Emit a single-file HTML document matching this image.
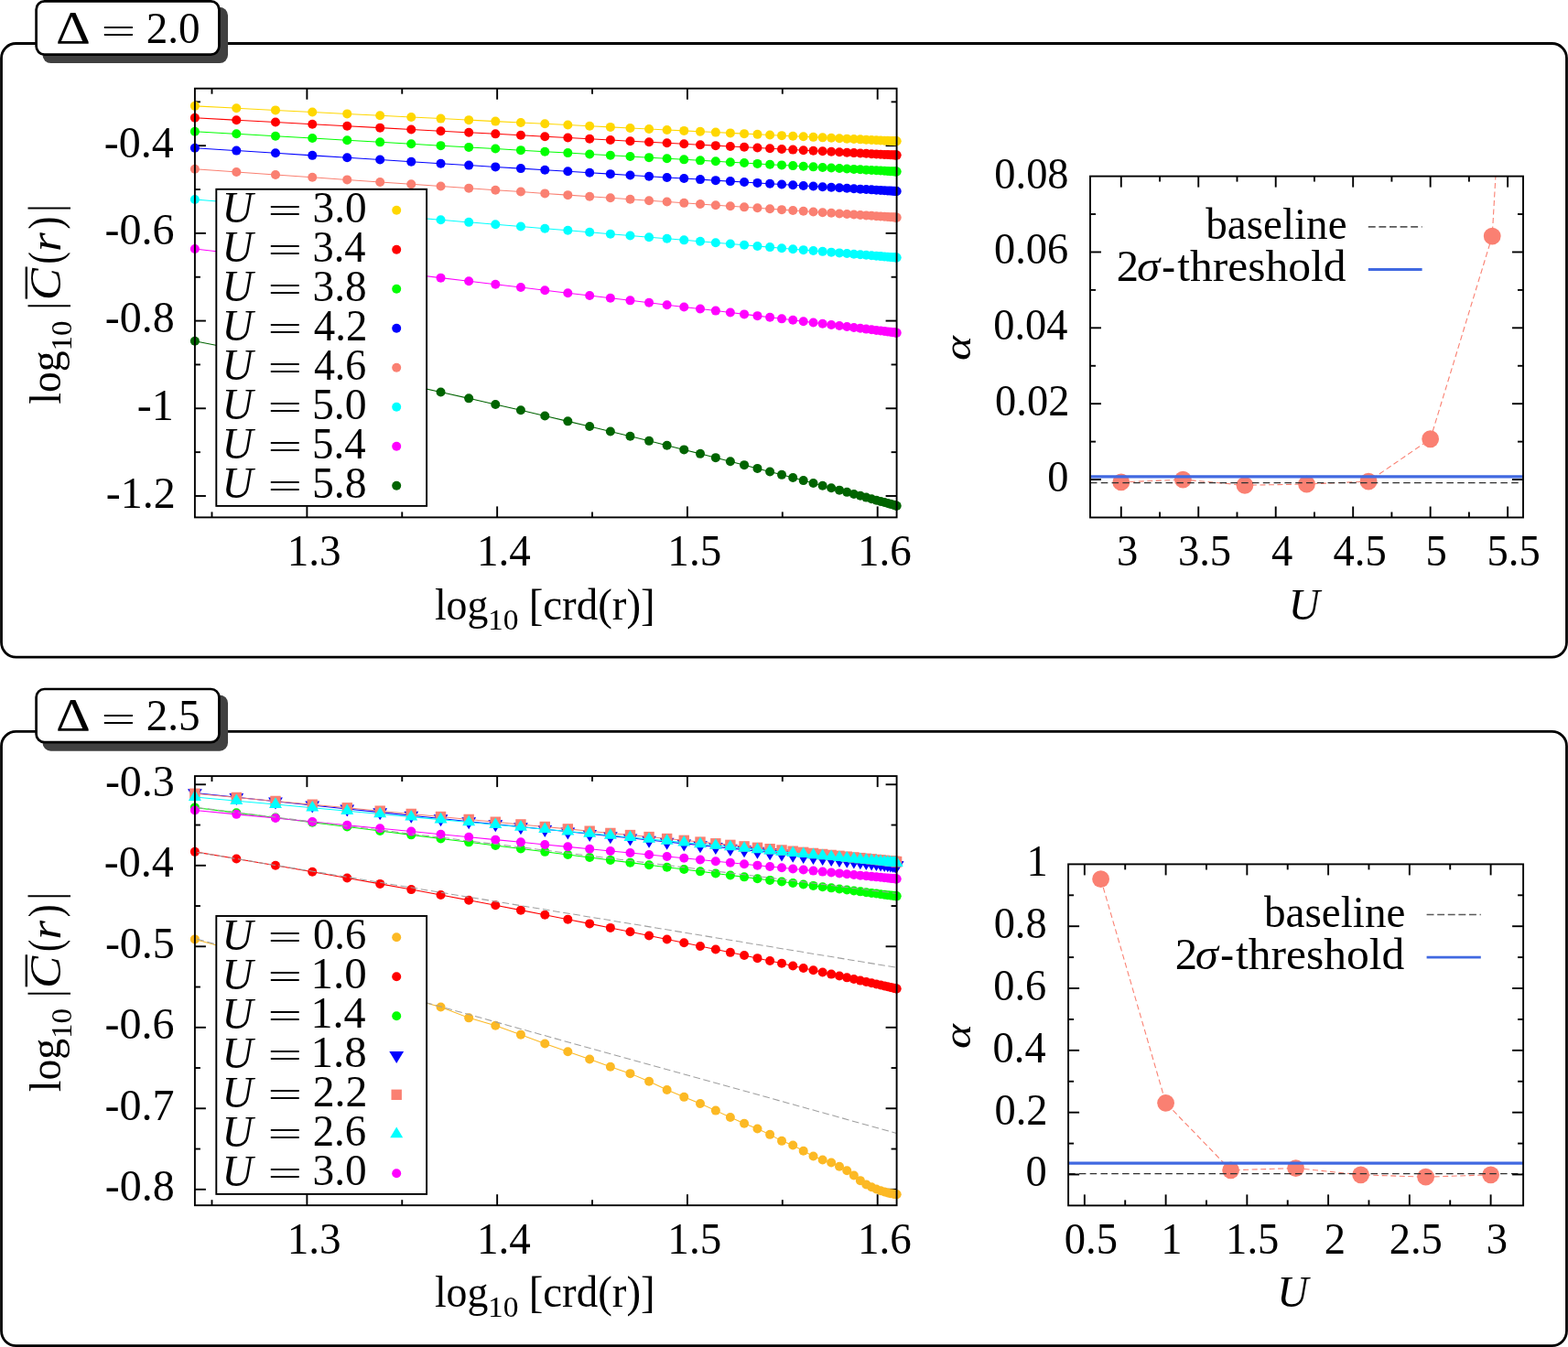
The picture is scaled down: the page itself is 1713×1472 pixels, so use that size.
<!DOCTYPE html>
<html><head><meta charset="utf-8"><title>figure</title>
<style>html,body{margin:0;padding:0;background:#fff;width:1713px;height:1472px;overflow:hidden}svg{display:block}</style>
</head><body>
<svg width="1713" height="1472" viewBox="0 0 1713 1472" font-family="'Liberation Serif', 'DejaVu Serif', serif" font-size="48" fill="#000">
<rect x="0" y="0" width="1713" height="1472" fill="#fff"/>
<rect x="1.5" y="47.5" width="1710" height="670.6" rx="16" ry="16" fill="none" stroke="#000" stroke-width="2.8"/>
<rect x="46.5" y="7.8" width="202.5" height="61.3" rx="9" ry="9" fill="#404040"/>
<rect x="39.6" y="1.4" width="199.8" height="58.2" rx="9" ry="9" fill="#fff" stroke="#000" stroke-width="2.7"/>
<text x="61.06" y="46.5" font-size="51.06" textLength="37.88" lengthAdjust="spacingAndGlyphs">Δ</text>
<text x="110.56" y="48.45" font-size="40.8" textLength="37.72" lengthAdjust="spacingAndGlyphs">=</text>
<text x="159.73" y="46.53" textLength="58.86" lengthAdjust="spacingAndGlyphs">2.0</text>
<clipPath id="clipL0"><rect x="212.9" y="96.7" width="766.7" height="468.7"/></clipPath>
<line x1="335.38" y1="565.4" x2="335.38" y2="553.4" stroke="#000" stroke-width="1.9"/>
<line x1="335.38" y1="96.7" x2="335.38" y2="108.7" stroke="#000" stroke-width="1.9"/>
<line x1="543.15" y1="565.4" x2="543.15" y2="553.4" stroke="#000" stroke-width="1.9"/>
<line x1="543.15" y1="96.7" x2="543.15" y2="108.7" stroke="#000" stroke-width="1.9"/>
<line x1="750.92" y1="565.4" x2="750.92" y2="553.4" stroke="#000" stroke-width="1.9"/>
<line x1="750.92" y1="96.7" x2="750.92" y2="108.7" stroke="#000" stroke-width="1.9"/>
<line x1="958.7" y1="565.4" x2="958.7" y2="553.4" stroke="#000" stroke-width="1.9"/>
<line x1="958.7" y1="96.7" x2="958.7" y2="108.7" stroke="#000" stroke-width="1.9"/>
<line x1="231.49" y1="565.4" x2="231.49" y2="559.4" stroke="#000" stroke-width="1.9"/>
<line x1="231.49" y1="96.7" x2="231.49" y2="102.7" stroke="#000" stroke-width="1.9"/>
<line x1="439.26" y1="565.4" x2="439.26" y2="559.4" stroke="#000" stroke-width="1.9"/>
<line x1="439.26" y1="96.7" x2="439.26" y2="102.7" stroke="#000" stroke-width="1.9"/>
<line x1="647.04" y1="565.4" x2="647.04" y2="559.4" stroke="#000" stroke-width="1.9"/>
<line x1="647.04" y1="96.7" x2="647.04" y2="102.7" stroke="#000" stroke-width="1.9"/>
<line x1="854.81" y1="565.4" x2="854.81" y2="559.4" stroke="#000" stroke-width="1.9"/>
<line x1="854.81" y1="96.7" x2="854.81" y2="102.7" stroke="#000" stroke-width="1.9"/>
<line x1="212.9" y1="159.2" x2="224.9" y2="159.2" stroke="#000" stroke-width="1.9"/>
<line x1="979.6" y1="159.2" x2="967.6" y2="159.2" stroke="#000" stroke-width="1.9"/>
<line x1="212.9" y1="254.9" x2="224.9" y2="254.9" stroke="#000" stroke-width="1.9"/>
<line x1="979.6" y1="254.9" x2="967.6" y2="254.9" stroke="#000" stroke-width="1.9"/>
<line x1="212.9" y1="350.6" x2="224.9" y2="350.6" stroke="#000" stroke-width="1.9"/>
<line x1="979.6" y1="350.6" x2="967.6" y2="350.6" stroke="#000" stroke-width="1.9"/>
<line x1="212.9" y1="446.3" x2="224.9" y2="446.3" stroke="#000" stroke-width="1.9"/>
<line x1="979.6" y1="446.3" x2="967.6" y2="446.3" stroke="#000" stroke-width="1.9"/>
<line x1="212.9" y1="542" x2="224.9" y2="542" stroke="#000" stroke-width="1.9"/>
<line x1="979.6" y1="542" x2="967.6" y2="542" stroke="#000" stroke-width="1.9"/>
<line x1="212.9" y1="111.35" x2="218.9" y2="111.35" stroke="#000" stroke-width="1.9"/>
<line x1="979.6" y1="111.35" x2="973.6" y2="111.35" stroke="#000" stroke-width="1.9"/>
<line x1="212.9" y1="207.05" x2="218.9" y2="207.05" stroke="#000" stroke-width="1.9"/>
<line x1="979.6" y1="207.05" x2="973.6" y2="207.05" stroke="#000" stroke-width="1.9"/>
<line x1="212.9" y1="302.75" x2="218.9" y2="302.75" stroke="#000" stroke-width="1.9"/>
<line x1="979.6" y1="302.75" x2="973.6" y2="302.75" stroke="#000" stroke-width="1.9"/>
<line x1="212.9" y1="398.45" x2="218.9" y2="398.45" stroke="#000" stroke-width="1.9"/>
<line x1="979.6" y1="398.45" x2="973.6" y2="398.45" stroke="#000" stroke-width="1.9"/>
<line x1="212.9" y1="494.15" x2="218.9" y2="494.15" stroke="#000" stroke-width="1.9"/>
<line x1="979.6" y1="494.15" x2="973.6" y2="494.15" stroke="#000" stroke-width="1.9"/>
<g clip-path="url(#clipL0)">
<polyline points="212.9,115.86 258.29,118.2 300.98,120.4 341.23,122.46 379.24,124.4 415.19,126.23 449.24,127.96 481.52,129.59 512.17,131.14 541.28,132.61 568.95,134 595.28,135.32 620.33,136.57 644.17,137.76 666.87,138.89 688.48,139.97 709.06,140.99 728.64,141.96 747.28,142.89 765.01,143.76 781.86,144.6 797.87,145.39 813.06,146.14 827.47,146.84 841.12,147.52 854.03,148.15 866.22,148.75 877.71,149.31 888.52,149.84 898.66,150.34 908.16,150.8 917.02,151.23 925.25,151.63 932.87,152.01 939.88,152.35 946.31,152.66 952.14,152.95 957.4,153.2 962.09,153.43 966.22,153.63 969.78,153.8 972.79,153.95 975.24,154.07 977.15,154.16 978.51,154.23 979.33,154.27 979.6,154.28" fill="none" stroke="#ffd700" stroke-width="1.05"/>
</g>
<circle cx="212.9" cy="115.86" r="5" fill="#ffd700"/>
<circle cx="258.29" cy="118.2" r="5" fill="#ffd700"/>
<circle cx="300.98" cy="120.4" r="5" fill="#ffd700"/>
<circle cx="341.23" cy="122.46" r="5" fill="#ffd700"/>
<circle cx="379.24" cy="124.4" r="5" fill="#ffd700"/>
<circle cx="415.19" cy="126.23" r="5" fill="#ffd700"/>
<circle cx="449.24" cy="127.96" r="5" fill="#ffd700"/>
<circle cx="481.52" cy="129.59" r="5" fill="#ffd700"/>
<circle cx="512.17" cy="131.14" r="5" fill="#ffd700"/>
<circle cx="541.28" cy="132.61" r="5" fill="#ffd700"/>
<circle cx="568.95" cy="134" r="5" fill="#ffd700"/>
<circle cx="595.28" cy="135.32" r="5" fill="#ffd700"/>
<circle cx="620.33" cy="136.57" r="5" fill="#ffd700"/>
<circle cx="644.17" cy="137.76" r="5" fill="#ffd700"/>
<circle cx="666.87" cy="138.89" r="5" fill="#ffd700"/>
<circle cx="688.48" cy="139.97" r="5" fill="#ffd700"/>
<circle cx="709.06" cy="140.99" r="5" fill="#ffd700"/>
<circle cx="728.64" cy="141.96" r="5" fill="#ffd700"/>
<circle cx="747.28" cy="142.89" r="5" fill="#ffd700"/>
<circle cx="765.01" cy="143.76" r="5" fill="#ffd700"/>
<circle cx="781.86" cy="144.6" r="5" fill="#ffd700"/>
<circle cx="797.87" cy="145.39" r="5" fill="#ffd700"/>
<circle cx="813.06" cy="146.14" r="5" fill="#ffd700"/>
<circle cx="827.47" cy="146.84" r="5" fill="#ffd700"/>
<circle cx="841.12" cy="147.52" r="5" fill="#ffd700"/>
<circle cx="854.03" cy="148.15" r="5" fill="#ffd700"/>
<circle cx="866.22" cy="148.75" r="5" fill="#ffd700"/>
<circle cx="877.71" cy="149.31" r="5" fill="#ffd700"/>
<circle cx="888.52" cy="149.84" r="5" fill="#ffd700"/>
<circle cx="898.66" cy="150.34" r="5" fill="#ffd700"/>
<circle cx="908.16" cy="150.8" r="5" fill="#ffd700"/>
<circle cx="917.02" cy="151.23" r="5" fill="#ffd700"/>
<circle cx="925.25" cy="151.63" r="5" fill="#ffd700"/>
<circle cx="932.87" cy="152.01" r="5" fill="#ffd700"/>
<circle cx="939.88" cy="152.35" r="5" fill="#ffd700"/>
<circle cx="946.31" cy="152.66" r="5" fill="#ffd700"/>
<circle cx="952.14" cy="152.95" r="5" fill="#ffd700"/>
<circle cx="957.4" cy="153.2" r="5" fill="#ffd700"/>
<circle cx="962.09" cy="153.43" r="5" fill="#ffd700"/>
<circle cx="966.22" cy="153.63" r="5" fill="#ffd700"/>
<circle cx="969.78" cy="153.8" r="5" fill="#ffd700"/>
<circle cx="972.79" cy="153.95" r="5" fill="#ffd700"/>
<circle cx="975.24" cy="154.07" r="5" fill="#ffd700"/>
<circle cx="977.15" cy="154.16" r="5" fill="#ffd700"/>
<circle cx="978.51" cy="154.23" r="5" fill="#ffd700"/>
<circle cx="979.33" cy="154.27" r="5" fill="#ffd700"/>
<circle cx="979.6" cy="154.28" r="5" fill="#ffd700"/>
<g clip-path="url(#clipL0)">
<polyline points="212.9,128.8 258.29,131.24 300.98,133.52 341.23,135.68 379.24,137.71 415.19,139.63 449.24,141.45 481.52,143.17 512.17,144.8 541.28,146.35 568.95,147.83 595.28,149.23 620.33,150.56 644.17,151.83 666.87,153.03 688.48,154.18 709.06,155.27 728.64,156.31 747.28,157.3 765.01,158.24 781.86,159.13 797.87,159.98 813.06,160.79 827.47,161.55 841.12,162.27 854.03,162.95 866.22,163.6 877.71,164.21 888.52,164.78 898.66,165.31 908.16,165.81 917.02,166.28 925.25,166.72 932.87,167.12 939.88,167.49 946.31,167.83 952.14,168.14 957.4,168.41 962.09,168.66 966.22,168.88 969.78,169.07 972.79,169.23 975.24,169.36 977.15,169.46 978.51,169.53 979.33,169.57 979.6,169.59" fill="none" stroke="#ff0000" stroke-width="1.05"/>
</g>
<circle cx="212.9" cy="128.8" r="5" fill="#ff0000"/>
<circle cx="258.29" cy="131.24" r="5" fill="#ff0000"/>
<circle cx="300.98" cy="133.52" r="5" fill="#ff0000"/>
<circle cx="341.23" cy="135.68" r="5" fill="#ff0000"/>
<circle cx="379.24" cy="137.71" r="5" fill="#ff0000"/>
<circle cx="415.19" cy="139.63" r="5" fill="#ff0000"/>
<circle cx="449.24" cy="141.45" r="5" fill="#ff0000"/>
<circle cx="481.52" cy="143.17" r="5" fill="#ff0000"/>
<circle cx="512.17" cy="144.8" r="5" fill="#ff0000"/>
<circle cx="541.28" cy="146.35" r="5" fill="#ff0000"/>
<circle cx="568.95" cy="147.83" r="5" fill="#ff0000"/>
<circle cx="595.28" cy="149.23" r="5" fill="#ff0000"/>
<circle cx="620.33" cy="150.56" r="5" fill="#ff0000"/>
<circle cx="644.17" cy="151.83" r="5" fill="#ff0000"/>
<circle cx="666.87" cy="153.03" r="5" fill="#ff0000"/>
<circle cx="688.48" cy="154.18" r="5" fill="#ff0000"/>
<circle cx="709.06" cy="155.27" r="5" fill="#ff0000"/>
<circle cx="728.64" cy="156.31" r="5" fill="#ff0000"/>
<circle cx="747.28" cy="157.3" r="5" fill="#ff0000"/>
<circle cx="765.01" cy="158.24" r="5" fill="#ff0000"/>
<circle cx="781.86" cy="159.13" r="5" fill="#ff0000"/>
<circle cx="797.87" cy="159.98" r="5" fill="#ff0000"/>
<circle cx="813.06" cy="160.79" r="5" fill="#ff0000"/>
<circle cx="827.47" cy="161.55" r="5" fill="#ff0000"/>
<circle cx="841.12" cy="162.27" r="5" fill="#ff0000"/>
<circle cx="854.03" cy="162.95" r="5" fill="#ff0000"/>
<circle cx="866.22" cy="163.6" r="5" fill="#ff0000"/>
<circle cx="877.71" cy="164.21" r="5" fill="#ff0000"/>
<circle cx="888.52" cy="164.78" r="5" fill="#ff0000"/>
<circle cx="898.66" cy="165.31" r="5" fill="#ff0000"/>
<circle cx="908.16" cy="165.81" r="5" fill="#ff0000"/>
<circle cx="917.02" cy="166.28" r="5" fill="#ff0000"/>
<circle cx="925.25" cy="166.72" r="5" fill="#ff0000"/>
<circle cx="932.87" cy="167.12" r="5" fill="#ff0000"/>
<circle cx="939.88" cy="167.49" r="5" fill="#ff0000"/>
<circle cx="946.31" cy="167.83" r="5" fill="#ff0000"/>
<circle cx="952.14" cy="168.14" r="5" fill="#ff0000"/>
<circle cx="957.4" cy="168.41" r="5" fill="#ff0000"/>
<circle cx="962.09" cy="168.66" r="5" fill="#ff0000"/>
<circle cx="966.22" cy="168.88" r="5" fill="#ff0000"/>
<circle cx="969.78" cy="169.07" r="5" fill="#ff0000"/>
<circle cx="972.79" cy="169.23" r="5" fill="#ff0000"/>
<circle cx="975.24" cy="169.36" r="5" fill="#ff0000"/>
<circle cx="977.15" cy="169.46" r="5" fill="#ff0000"/>
<circle cx="978.51" cy="169.53" r="5" fill="#ff0000"/>
<circle cx="979.33" cy="169.57" r="5" fill="#ff0000"/>
<circle cx="979.6" cy="169.59" r="5" fill="#ff0000"/>
<g clip-path="url(#clipL0)">
<polyline points="212.9,143.68 258.29,146.3 300.98,148.76 341.23,151.08 379.24,153.27 415.19,155.34 449.24,157.3 481.52,159.15 512.17,160.91 541.28,162.58 568.95,164.16 595.28,165.67 620.33,167.1 644.17,168.46 666.87,169.76 688.48,170.99 709.06,172.16 728.64,173.28 747.28,174.34 765.01,175.35 781.86,176.31 797.87,177.22 813.06,178.08 827.47,178.9 841.12,179.68 854.03,180.41 866.22,181.1 877.71,181.75 888.52,182.37 898.66,182.94 908.16,183.48 917.02,183.98 925.25,184.45 932.87,184.88 939.88,185.28 946.31,185.64 952.14,185.97 957.4,186.27 962.09,186.53 966.22,186.77 969.78,186.97 972.79,187.14 975.24,187.28 977.15,187.38 978.51,187.46 979.33,187.51 979.6,187.52" fill="none" stroke="#00ff00" stroke-width="1.05"/>
</g>
<circle cx="212.9" cy="143.68" r="5" fill="#00ff00"/>
<circle cx="258.29" cy="146.3" r="5" fill="#00ff00"/>
<circle cx="300.98" cy="148.76" r="5" fill="#00ff00"/>
<circle cx="341.23" cy="151.08" r="5" fill="#00ff00"/>
<circle cx="379.24" cy="153.27" r="5" fill="#00ff00"/>
<circle cx="415.19" cy="155.34" r="5" fill="#00ff00"/>
<circle cx="449.24" cy="157.3" r="5" fill="#00ff00"/>
<circle cx="481.52" cy="159.15" r="5" fill="#00ff00"/>
<circle cx="512.17" cy="160.91" r="5" fill="#00ff00"/>
<circle cx="541.28" cy="162.58" r="5" fill="#00ff00"/>
<circle cx="568.95" cy="164.16" r="5" fill="#00ff00"/>
<circle cx="595.28" cy="165.67" r="5" fill="#00ff00"/>
<circle cx="620.33" cy="167.1" r="5" fill="#00ff00"/>
<circle cx="644.17" cy="168.46" r="5" fill="#00ff00"/>
<circle cx="666.87" cy="169.76" r="5" fill="#00ff00"/>
<circle cx="688.48" cy="170.99" r="5" fill="#00ff00"/>
<circle cx="709.06" cy="172.16" r="5" fill="#00ff00"/>
<circle cx="728.64" cy="173.28" r="5" fill="#00ff00"/>
<circle cx="747.28" cy="174.34" r="5" fill="#00ff00"/>
<circle cx="765.01" cy="175.35" r="5" fill="#00ff00"/>
<circle cx="781.86" cy="176.31" r="5" fill="#00ff00"/>
<circle cx="797.87" cy="177.22" r="5" fill="#00ff00"/>
<circle cx="813.06" cy="178.08" r="5" fill="#00ff00"/>
<circle cx="827.47" cy="178.9" r="5" fill="#00ff00"/>
<circle cx="841.12" cy="179.68" r="5" fill="#00ff00"/>
<circle cx="854.03" cy="180.41" r="5" fill="#00ff00"/>
<circle cx="866.22" cy="181.1" r="5" fill="#00ff00"/>
<circle cx="877.71" cy="181.75" r="5" fill="#00ff00"/>
<circle cx="888.52" cy="182.37" r="5" fill="#00ff00"/>
<circle cx="898.66" cy="182.94" r="5" fill="#00ff00"/>
<circle cx="908.16" cy="183.48" r="5" fill="#00ff00"/>
<circle cx="917.02" cy="183.98" r="5" fill="#00ff00"/>
<circle cx="925.25" cy="184.45" r="5" fill="#00ff00"/>
<circle cx="932.87" cy="184.88" r="5" fill="#00ff00"/>
<circle cx="939.88" cy="185.28" r="5" fill="#00ff00"/>
<circle cx="946.31" cy="185.64" r="5" fill="#00ff00"/>
<circle cx="952.14" cy="185.97" r="5" fill="#00ff00"/>
<circle cx="957.4" cy="186.27" r="5" fill="#00ff00"/>
<circle cx="962.09" cy="186.53" r="5" fill="#00ff00"/>
<circle cx="966.22" cy="186.77" r="5" fill="#00ff00"/>
<circle cx="969.78" cy="186.97" r="5" fill="#00ff00"/>
<circle cx="972.79" cy="187.14" r="5" fill="#00ff00"/>
<circle cx="975.24" cy="187.28" r="5" fill="#00ff00"/>
<circle cx="977.15" cy="187.38" r="5" fill="#00ff00"/>
<circle cx="978.51" cy="187.46" r="5" fill="#00ff00"/>
<circle cx="979.33" cy="187.51" r="5" fill="#00ff00"/>
<circle cx="979.6" cy="187.52" r="5" fill="#00ff00"/>
<g clip-path="url(#clipL0)">
<polyline points="212.9,161.7 258.29,164.6 300.98,167.32 341.23,169.87 379.24,172.27 415.19,174.53 449.24,176.67 481.52,178.69 512.17,180.59 541.28,182.4 568.95,184.12 595.28,185.74 620.33,187.29 644.17,188.75 666.87,190.14 688.48,191.47 709.06,192.72 728.64,193.92 747.28,195.05 765.01,196.12 781.86,197.15 797.87,198.11 813.06,199.03 827.47,199.9 841.12,200.72 854.03,201.5 866.22,202.23 877.71,202.92 888.52,203.57 898.66,204.17 908.16,204.74 917.02,205.27 925.25,205.76 932.87,206.21 939.88,206.63 946.31,207.01 952.14,207.36 957.4,207.67 962.09,207.95 966.22,208.2 969.78,208.41 972.79,208.59 975.24,208.73 977.15,208.85 978.51,208.93 979.33,208.98 979.6,208.99" fill="none" stroke="#0000ff" stroke-width="1.05"/>
</g>
<circle cx="212.9" cy="161.7" r="5" fill="#0000ff"/>
<circle cx="258.29" cy="164.6" r="5" fill="#0000ff"/>
<circle cx="300.98" cy="167.32" r="5" fill="#0000ff"/>
<circle cx="341.23" cy="169.87" r="5" fill="#0000ff"/>
<circle cx="379.24" cy="172.27" r="5" fill="#0000ff"/>
<circle cx="415.19" cy="174.53" r="5" fill="#0000ff"/>
<circle cx="449.24" cy="176.67" r="5" fill="#0000ff"/>
<circle cx="481.52" cy="178.69" r="5" fill="#0000ff"/>
<circle cx="512.17" cy="180.59" r="5" fill="#0000ff"/>
<circle cx="541.28" cy="182.4" r="5" fill="#0000ff"/>
<circle cx="568.95" cy="184.12" r="5" fill="#0000ff"/>
<circle cx="595.28" cy="185.74" r="5" fill="#0000ff"/>
<circle cx="620.33" cy="187.29" r="5" fill="#0000ff"/>
<circle cx="644.17" cy="188.75" r="5" fill="#0000ff"/>
<circle cx="666.87" cy="190.14" r="5" fill="#0000ff"/>
<circle cx="688.48" cy="191.47" r="5" fill="#0000ff"/>
<circle cx="709.06" cy="192.72" r="5" fill="#0000ff"/>
<circle cx="728.64" cy="193.92" r="5" fill="#0000ff"/>
<circle cx="747.28" cy="195.05" r="5" fill="#0000ff"/>
<circle cx="765.01" cy="196.12" r="5" fill="#0000ff"/>
<circle cx="781.86" cy="197.15" r="5" fill="#0000ff"/>
<circle cx="797.87" cy="198.11" r="5" fill="#0000ff"/>
<circle cx="813.06" cy="199.03" r="5" fill="#0000ff"/>
<circle cx="827.47" cy="199.9" r="5" fill="#0000ff"/>
<circle cx="841.12" cy="200.72" r="5" fill="#0000ff"/>
<circle cx="854.03" cy="201.5" r="5" fill="#0000ff"/>
<circle cx="866.22" cy="202.23" r="5" fill="#0000ff"/>
<circle cx="877.71" cy="202.92" r="5" fill="#0000ff"/>
<circle cx="888.52" cy="203.57" r="5" fill="#0000ff"/>
<circle cx="898.66" cy="204.17" r="5" fill="#0000ff"/>
<circle cx="908.16" cy="204.74" r="5" fill="#0000ff"/>
<circle cx="917.02" cy="205.27" r="5" fill="#0000ff"/>
<circle cx="925.25" cy="205.76" r="5" fill="#0000ff"/>
<circle cx="932.87" cy="206.21" r="5" fill="#0000ff"/>
<circle cx="939.88" cy="206.63" r="5" fill="#0000ff"/>
<circle cx="946.31" cy="207.01" r="5" fill="#0000ff"/>
<circle cx="952.14" cy="207.36" r="5" fill="#0000ff"/>
<circle cx="957.4" cy="207.67" r="5" fill="#0000ff"/>
<circle cx="962.09" cy="207.95" r="5" fill="#0000ff"/>
<circle cx="966.22" cy="208.2" r="5" fill="#0000ff"/>
<circle cx="969.78" cy="208.41" r="5" fill="#0000ff"/>
<circle cx="972.79" cy="208.59" r="5" fill="#0000ff"/>
<circle cx="975.24" cy="208.73" r="5" fill="#0000ff"/>
<circle cx="977.15" cy="208.85" r="5" fill="#0000ff"/>
<circle cx="978.51" cy="208.93" r="5" fill="#0000ff"/>
<circle cx="979.33" cy="208.98" r="5" fill="#0000ff"/>
<circle cx="979.6" cy="208.99" r="5" fill="#0000ff"/>
<g clip-path="url(#clipL0)">
<polyline points="212.9,184.75 258.29,187.94 300.98,190.94 341.23,193.75 379.24,196.41 415.19,198.92 449.24,201.29 481.52,203.53 512.17,205.65 541.28,207.67 568.95,209.58 595.28,211.4 620.33,213.13 644.17,214.77 666.87,216.33 688.48,217.82 709.06,219.23 728.64,220.57 747.28,221.85 765.01,223.06 781.86,224.22 797.87,225.31 813.06,226.35 827.47,227.33 841.12,228.26 854.03,229.14 866.22,229.97 877.71,230.75 888.52,231.48 898.66,232.17 908.16,232.82 917.02,233.42 925.25,233.98 932.87,234.49 939.88,234.97 946.31,235.41 952.14,235.8 957.4,236.16 962.09,236.47 966.22,236.75 969.78,236.99 972.79,237.2 975.24,237.36 977.15,237.49 978.51,237.59 979.33,237.64 979.6,237.66" fill="none" stroke="#fa8072" stroke-width="1.05"/>
</g>
<circle cx="212.9" cy="184.75" r="5" fill="#fa8072"/>
<circle cx="258.29" cy="187.94" r="5" fill="#fa8072"/>
<circle cx="300.98" cy="190.94" r="5" fill="#fa8072"/>
<circle cx="341.23" cy="193.75" r="5" fill="#fa8072"/>
<circle cx="379.24" cy="196.41" r="5" fill="#fa8072"/>
<circle cx="415.19" cy="198.92" r="5" fill="#fa8072"/>
<circle cx="449.24" cy="201.29" r="5" fill="#fa8072"/>
<circle cx="481.52" cy="203.53" r="5" fill="#fa8072"/>
<circle cx="512.17" cy="205.65" r="5" fill="#fa8072"/>
<circle cx="541.28" cy="207.67" r="5" fill="#fa8072"/>
<circle cx="568.95" cy="209.58" r="5" fill="#fa8072"/>
<circle cx="595.28" cy="211.4" r="5" fill="#fa8072"/>
<circle cx="620.33" cy="213.13" r="5" fill="#fa8072"/>
<circle cx="644.17" cy="214.77" r="5" fill="#fa8072"/>
<circle cx="666.87" cy="216.33" r="5" fill="#fa8072"/>
<circle cx="688.48" cy="217.82" r="5" fill="#fa8072"/>
<circle cx="709.06" cy="219.23" r="5" fill="#fa8072"/>
<circle cx="728.64" cy="220.57" r="5" fill="#fa8072"/>
<circle cx="747.28" cy="221.85" r="5" fill="#fa8072"/>
<circle cx="765.01" cy="223.06" r="5" fill="#fa8072"/>
<circle cx="781.86" cy="224.22" r="5" fill="#fa8072"/>
<circle cx="797.87" cy="225.31" r="5" fill="#fa8072"/>
<circle cx="813.06" cy="226.35" r="5" fill="#fa8072"/>
<circle cx="827.47" cy="227.33" r="5" fill="#fa8072"/>
<circle cx="841.12" cy="228.26" r="5" fill="#fa8072"/>
<circle cx="854.03" cy="229.14" r="5" fill="#fa8072"/>
<circle cx="866.22" cy="229.97" r="5" fill="#fa8072"/>
<circle cx="877.71" cy="230.75" r="5" fill="#fa8072"/>
<circle cx="888.52" cy="231.48" r="5" fill="#fa8072"/>
<circle cx="898.66" cy="232.17" r="5" fill="#fa8072"/>
<circle cx="908.16" cy="232.82" r="5" fill="#fa8072"/>
<circle cx="917.02" cy="233.42" r="5" fill="#fa8072"/>
<circle cx="925.25" cy="233.98" r="5" fill="#fa8072"/>
<circle cx="932.87" cy="234.49" r="5" fill="#fa8072"/>
<circle cx="939.88" cy="234.97" r="5" fill="#fa8072"/>
<circle cx="946.31" cy="235.41" r="5" fill="#fa8072"/>
<circle cx="952.14" cy="235.8" r="5" fill="#fa8072"/>
<circle cx="957.4" cy="236.16" r="5" fill="#fa8072"/>
<circle cx="962.09" cy="236.47" r="5" fill="#fa8072"/>
<circle cx="966.22" cy="236.75" r="5" fill="#fa8072"/>
<circle cx="969.78" cy="236.99" r="5" fill="#fa8072"/>
<circle cx="972.79" cy="237.2" r="5" fill="#fa8072"/>
<circle cx="975.24" cy="237.36" r="5" fill="#fa8072"/>
<circle cx="977.15" cy="237.49" r="5" fill="#fa8072"/>
<circle cx="978.51" cy="237.59" r="5" fill="#fa8072"/>
<circle cx="979.33" cy="237.64" r="5" fill="#fa8072"/>
<circle cx="979.6" cy="237.66" r="5" fill="#fa8072"/>
<g clip-path="url(#clipL0)">
<polyline points="212.9,217.92 258.29,221.71 300.98,225.27 341.23,228.63 379.24,231.79 415.19,234.79 449.24,237.62 481.52,240.3 512.17,242.85 541.28,245.27 568.95,247.57 595.28,249.75 620.33,251.83 644.17,253.81 666.87,255.69 688.48,257.48 709.06,259.19 728.64,260.81 747.28,262.35 765.01,263.82 781.86,265.21 797.87,266.54 813.06,267.8 827.47,268.99 841.12,270.12 854.03,271.18 866.22,272.19 877.71,273.14 888.52,274.03 898.66,274.87 908.16,275.66 917.02,276.39 925.25,277.07 932.87,277.7 939.88,278.28 946.31,278.81 952.14,279.29 957.4,279.72 962.09,280.11 966.22,280.45 969.78,280.74 972.79,280.99 975.24,281.19 977.15,281.35 978.51,281.46 979.33,281.53 979.6,281.55" fill="none" stroke="#00ffff" stroke-width="1.05"/>
</g>
<circle cx="212.9" cy="217.92" r="5" fill="#00ffff"/>
<circle cx="258.29" cy="221.71" r="5" fill="#00ffff"/>
<circle cx="300.98" cy="225.27" r="5" fill="#00ffff"/>
<circle cx="341.23" cy="228.63" r="5" fill="#00ffff"/>
<circle cx="379.24" cy="231.79" r="5" fill="#00ffff"/>
<circle cx="415.19" cy="234.79" r="5" fill="#00ffff"/>
<circle cx="449.24" cy="237.62" r="5" fill="#00ffff"/>
<circle cx="481.52" cy="240.3" r="5" fill="#00ffff"/>
<circle cx="512.17" cy="242.85" r="5" fill="#00ffff"/>
<circle cx="541.28" cy="245.27" r="5" fill="#00ffff"/>
<circle cx="568.95" cy="247.57" r="5" fill="#00ffff"/>
<circle cx="595.28" cy="249.75" r="5" fill="#00ffff"/>
<circle cx="620.33" cy="251.83" r="5" fill="#00ffff"/>
<circle cx="644.17" cy="253.81" r="5" fill="#00ffff"/>
<circle cx="666.87" cy="255.69" r="5" fill="#00ffff"/>
<circle cx="688.48" cy="257.48" r="5" fill="#00ffff"/>
<circle cx="709.06" cy="259.19" r="5" fill="#00ffff"/>
<circle cx="728.64" cy="260.81" r="5" fill="#00ffff"/>
<circle cx="747.28" cy="262.35" r="5" fill="#00ffff"/>
<circle cx="765.01" cy="263.82" r="5" fill="#00ffff"/>
<circle cx="781.86" cy="265.21" r="5" fill="#00ffff"/>
<circle cx="797.87" cy="266.54" r="5" fill="#00ffff"/>
<circle cx="813.06" cy="267.8" r="5" fill="#00ffff"/>
<circle cx="827.47" cy="268.99" r="5" fill="#00ffff"/>
<circle cx="841.12" cy="270.12" r="5" fill="#00ffff"/>
<circle cx="854.03" cy="271.18" r="5" fill="#00ffff"/>
<circle cx="866.22" cy="272.19" r="5" fill="#00ffff"/>
<circle cx="877.71" cy="273.14" r="5" fill="#00ffff"/>
<circle cx="888.52" cy="274.03" r="5" fill="#00ffff"/>
<circle cx="898.66" cy="274.87" r="5" fill="#00ffff"/>
<circle cx="908.16" cy="275.66" r="5" fill="#00ffff"/>
<circle cx="917.02" cy="276.39" r="5" fill="#00ffff"/>
<circle cx="925.25" cy="277.07" r="5" fill="#00ffff"/>
<circle cx="932.87" cy="277.7" r="5" fill="#00ffff"/>
<circle cx="939.88" cy="278.28" r="5" fill="#00ffff"/>
<circle cx="946.31" cy="278.81" r="5" fill="#00ffff"/>
<circle cx="952.14" cy="279.29" r="5" fill="#00ffff"/>
<circle cx="957.4" cy="279.72" r="5" fill="#00ffff"/>
<circle cx="962.09" cy="280.11" r="5" fill="#00ffff"/>
<circle cx="966.22" cy="280.45" r="5" fill="#00ffff"/>
<circle cx="969.78" cy="280.74" r="5" fill="#00ffff"/>
<circle cx="972.79" cy="280.99" r="5" fill="#00ffff"/>
<circle cx="975.24" cy="281.19" r="5" fill="#00ffff"/>
<circle cx="977.15" cy="281.35" r="5" fill="#00ffff"/>
<circle cx="978.51" cy="281.46" r="5" fill="#00ffff"/>
<circle cx="979.33" cy="281.53" r="5" fill="#00ffff"/>
<circle cx="979.6" cy="281.55" r="5" fill="#00ffff"/>
<g clip-path="url(#clipL0)">
<polyline points="212.9,272.04 258.29,277.34 300.98,282.34 341.23,287.07 379.24,291.54 415.19,295.78 449.24,299.81 481.52,303.63 512.17,307.27 541.28,310.73 568.95,314.03 595.28,317.18 620.33,320.17 644.17,323.03 666.87,325.75 688.48,328.35 709.06,330.82 728.64,333.18 747.28,335.43 765.01,337.57 781.86,339.6 797.87,341.54 813.06,343.38 827.47,345.13 841.12,346.78 854.03,348.35 866.22,349.83 877.71,351.23 888.52,352.54 898.66,353.78 908.16,354.93 917.02,356.01 925.25,357.02 932.87,357.95 939.88,358.8 946.31,359.59 952.14,360.3 957.4,360.94 962.09,361.52 966.22,362.02 969.78,362.46 972.79,362.83 975.24,363.13 977.15,363.36 978.51,363.53 979.33,363.63 979.6,363.66" fill="none" stroke="#ff00ff" stroke-width="1.05"/>
</g>
<circle cx="212.9" cy="272.04" r="5" fill="#ff00ff"/>
<circle cx="258.29" cy="277.34" r="5" fill="#ff00ff"/>
<circle cx="300.98" cy="282.34" r="5" fill="#ff00ff"/>
<circle cx="341.23" cy="287.07" r="5" fill="#ff00ff"/>
<circle cx="379.24" cy="291.54" r="5" fill="#ff00ff"/>
<circle cx="415.19" cy="295.78" r="5" fill="#ff00ff"/>
<circle cx="449.24" cy="299.81" r="5" fill="#ff00ff"/>
<circle cx="481.52" cy="303.63" r="5" fill="#ff00ff"/>
<circle cx="512.17" cy="307.27" r="5" fill="#ff00ff"/>
<circle cx="541.28" cy="310.73" r="5" fill="#ff00ff"/>
<circle cx="568.95" cy="314.03" r="5" fill="#ff00ff"/>
<circle cx="595.28" cy="317.18" r="5" fill="#ff00ff"/>
<circle cx="620.33" cy="320.17" r="5" fill="#ff00ff"/>
<circle cx="644.17" cy="323.03" r="5" fill="#ff00ff"/>
<circle cx="666.87" cy="325.75" r="5" fill="#ff00ff"/>
<circle cx="688.48" cy="328.35" r="5" fill="#ff00ff"/>
<circle cx="709.06" cy="330.82" r="5" fill="#ff00ff"/>
<circle cx="728.64" cy="333.18" r="5" fill="#ff00ff"/>
<circle cx="747.28" cy="335.43" r="5" fill="#ff00ff"/>
<circle cx="765.01" cy="337.57" r="5" fill="#ff00ff"/>
<circle cx="781.86" cy="339.6" r="5" fill="#ff00ff"/>
<circle cx="797.87" cy="341.54" r="5" fill="#ff00ff"/>
<circle cx="813.06" cy="343.38" r="5" fill="#ff00ff"/>
<circle cx="827.47" cy="345.13" r="5" fill="#ff00ff"/>
<circle cx="841.12" cy="346.78" r="5" fill="#ff00ff"/>
<circle cx="854.03" cy="348.35" r="5" fill="#ff00ff"/>
<circle cx="866.22" cy="349.83" r="5" fill="#ff00ff"/>
<circle cx="877.71" cy="351.23" r="5" fill="#ff00ff"/>
<circle cx="888.52" cy="352.54" r="5" fill="#ff00ff"/>
<circle cx="898.66" cy="353.78" r="5" fill="#ff00ff"/>
<circle cx="908.16" cy="354.93" r="5" fill="#ff00ff"/>
<circle cx="917.02" cy="356.01" r="5" fill="#ff00ff"/>
<circle cx="925.25" cy="357.02" r="5" fill="#ff00ff"/>
<circle cx="932.87" cy="357.95" r="5" fill="#ff00ff"/>
<circle cx="939.88" cy="358.8" r="5" fill="#ff00ff"/>
<circle cx="946.31" cy="359.59" r="5" fill="#ff00ff"/>
<circle cx="952.14" cy="360.3" r="5" fill="#ff00ff"/>
<circle cx="957.4" cy="360.94" r="5" fill="#ff00ff"/>
<circle cx="962.09" cy="361.52" r="5" fill="#ff00ff"/>
<circle cx="966.22" cy="362.02" r="5" fill="#ff00ff"/>
<circle cx="969.78" cy="362.46" r="5" fill="#ff00ff"/>
<circle cx="972.79" cy="362.83" r="5" fill="#ff00ff"/>
<circle cx="975.24" cy="363.13" r="5" fill="#ff00ff"/>
<circle cx="977.15" cy="363.36" r="5" fill="#ff00ff"/>
<circle cx="978.51" cy="363.53" r="5" fill="#ff00ff"/>
<circle cx="979.33" cy="363.63" r="5" fill="#ff00ff"/>
<circle cx="979.6" cy="363.66" r="5" fill="#ff00ff"/>
<g clip-path="url(#clipL0)">
<polyline points="212.9,372.82 258.29,381.67 300.98,390.2 341.23,398.42 379.24,406.35 415.19,414 449.24,421.38 481.52,428.49 512.17,435.34 541.28,441.95 568.95,448.32 595.28,454.46 620.33,460.37 644.17,466.06 666.87,471.53 688.48,476.8 709.06,481.86 728.64,486.72 747.28,491.39 765.01,495.86 781.86,500.14 797.87,504.24 813.06,508.16 827.47,511.89 841.12,515.46 854.03,518.84 866.22,522.06 877.71,525.1 888.52,527.98 898.66,530.69 908.16,533.24 917.02,535.63 925.25,537.86 932.87,539.93 939.88,541.83 946.31,543.59 952.14,545.18 957.4,546.63 962.09,547.91 966.22,549.05 969.78,550.03 972.79,550.86 975.24,551.54 977.15,552.07 978.51,552.44 979.33,552.67 979.6,552.75" fill="none" stroke="#006400" stroke-width="1.05"/>
</g>
<circle cx="212.9" cy="372.82" r="5" fill="#006400"/>
<circle cx="258.29" cy="381.67" r="5" fill="#006400"/>
<circle cx="300.98" cy="390.2" r="5" fill="#006400"/>
<circle cx="341.23" cy="398.42" r="5" fill="#006400"/>
<circle cx="379.24" cy="406.35" r="5" fill="#006400"/>
<circle cx="415.19" cy="414" r="5" fill="#006400"/>
<circle cx="449.24" cy="421.38" r="5" fill="#006400"/>
<circle cx="481.52" cy="428.49" r="5" fill="#006400"/>
<circle cx="512.17" cy="435.34" r="5" fill="#006400"/>
<circle cx="541.28" cy="441.95" r="5" fill="#006400"/>
<circle cx="568.95" cy="448.32" r="5" fill="#006400"/>
<circle cx="595.28" cy="454.46" r="5" fill="#006400"/>
<circle cx="620.33" cy="460.37" r="5" fill="#006400"/>
<circle cx="644.17" cy="466.06" r="5" fill="#006400"/>
<circle cx="666.87" cy="471.53" r="5" fill="#006400"/>
<circle cx="688.48" cy="476.8" r="5" fill="#006400"/>
<circle cx="709.06" cy="481.86" r="5" fill="#006400"/>
<circle cx="728.64" cy="486.72" r="5" fill="#006400"/>
<circle cx="747.28" cy="491.39" r="5" fill="#006400"/>
<circle cx="765.01" cy="495.86" r="5" fill="#006400"/>
<circle cx="781.86" cy="500.14" r="5" fill="#006400"/>
<circle cx="797.87" cy="504.24" r="5" fill="#006400"/>
<circle cx="813.06" cy="508.16" r="5" fill="#006400"/>
<circle cx="827.47" cy="511.89" r="5" fill="#006400"/>
<circle cx="841.12" cy="515.46" r="5" fill="#006400"/>
<circle cx="854.03" cy="518.84" r="5" fill="#006400"/>
<circle cx="866.22" cy="522.06" r="5" fill="#006400"/>
<circle cx="877.71" cy="525.1" r="5" fill="#006400"/>
<circle cx="888.52" cy="527.98" r="5" fill="#006400"/>
<circle cx="898.66" cy="530.69" r="5" fill="#006400"/>
<circle cx="908.16" cy="533.24" r="5" fill="#006400"/>
<circle cx="917.02" cy="535.63" r="5" fill="#006400"/>
<circle cx="925.25" cy="537.86" r="5" fill="#006400"/>
<circle cx="932.87" cy="539.93" r="5" fill="#006400"/>
<circle cx="939.88" cy="541.83" r="5" fill="#006400"/>
<circle cx="946.31" cy="543.59" r="5" fill="#006400"/>
<circle cx="952.14" cy="545.18" r="5" fill="#006400"/>
<circle cx="957.4" cy="546.63" r="5" fill="#006400"/>
<circle cx="962.09" cy="547.91" r="5" fill="#006400"/>
<circle cx="966.22" cy="549.05" r="5" fill="#006400"/>
<circle cx="969.78" cy="550.03" r="5" fill="#006400"/>
<circle cx="972.79" cy="550.86" r="5" fill="#006400"/>
<circle cx="975.24" cy="551.54" r="5" fill="#006400"/>
<circle cx="977.15" cy="552.07" r="5" fill="#006400"/>
<circle cx="978.51" cy="552.44" r="5" fill="#006400"/>
<circle cx="979.33" cy="552.67" r="5" fill="#006400"/>
<circle cx="979.6" cy="552.75" r="5" fill="#006400"/>
<g clip-path="url(#clipL0)">
</g>
<text x="313.83" y="618.2" textLength="58.8" lengthAdjust="spacingAndGlyphs">1.3</text>
<text x="521.06" y="618.2" textLength="58.8" lengthAdjust="spacingAndGlyphs">1.4</text>
<text x="729.37" y="618.2" textLength="58.8" lengthAdjust="spacingAndGlyphs">1.5</text>
<text x="936.93" y="618.2" textLength="58.8" lengthAdjust="spacingAndGlyphs">1.6</text>
<text x="113.78" y="171.7">-0.4</text>
<text x="114.46" y="267.4">-0.6</text>
<text x="114.84" y="363.1">-0.8</text>
<text x="149.7" y="458.8">-1</text>
<text x="115.66" y="554.5">-1.2</text>
<text x="474.88" y="676.8" textLength="58.48" lengthAdjust="spacingAndGlyphs">log</text>
<text x="533.05" y="687.5" font-size="32.5" textLength="33.52" lengthAdjust="spacingAndGlyphs">10</text>
<text x="577.63" y="676.8" textLength="138.04" lengthAdjust="spacingAndGlyphs">[crd(r)]</text>
<g transform="translate(65.6,440.8) rotate(-90)">
<text x="-0.91" y="0" textLength="58.37" lengthAdjust="spacingAndGlyphs">log</text>
<text x="57.39" y="12" font-size="32.5" textLength="33.07" lengthAdjust="spacingAndGlyphs">10</text>
<text x="102.6" y="0.54" font-size="51.21" textLength="8.01" lengthAdjust="spacingAndGlyphs">|</text>
<text x="112.46" y="0" font-style="italic" textLength="35.07" lengthAdjust="spacingAndGlyphs">C</text>
<text x="116.7" y="9.98" font-size="61.54" textLength="29.82" lengthAdjust="spacingAndGlyphs">‾</text>
<text x="152.35" y="0" font-size="50" textLength="13.22" lengthAdjust="spacingAndGlyphs">(</text>
<text x="165.7" y="0" font-style="italic" textLength="20.84" lengthAdjust="spacingAndGlyphs">r</text>
<text x="190.28" y="0" font-size="50" textLength="13.74" lengthAdjust="spacingAndGlyphs">)</text>
<text x="209.2" y="0.54" font-size="51.21" textLength="8.01" lengthAdjust="spacingAndGlyphs">|</text>
</g>
<rect x="236.3" y="206.8" width="229.8" height="346.1" fill="#fff" stroke="#000" stroke-width="1.9"/>
<text x="242.47" y="243" font-style="italic" textLength="34" lengthAdjust="spacingAndGlyphs">U</text>
<text x="292.48" y="243.81" font-size="39.2" textLength="37.48" lengthAdjust="spacingAndGlyphs">=</text>
<text x="341.53" y="242.7" textLength="59.06" lengthAdjust="spacingAndGlyphs">3.0</text>
<circle cx="433.2" cy="229.8" r="5" fill="#ffd700"/>
<text x="242.47" y="286" font-style="italic" textLength="34" lengthAdjust="spacingAndGlyphs">U</text>
<text x="292.48" y="286.81" font-size="39.2" textLength="37.48" lengthAdjust="spacingAndGlyphs">=</text>
<text x="341.57" y="285.7" textLength="57.97" lengthAdjust="spacingAndGlyphs">3.4</text>
<circle cx="433.2" cy="272.8" r="5" fill="#ff0000"/>
<text x="242.47" y="329" font-style="italic" textLength="34" lengthAdjust="spacingAndGlyphs">U</text>
<text x="292.48" y="329.81" font-size="39.2" textLength="37.48" lengthAdjust="spacingAndGlyphs">=</text>
<text x="341.53" y="328.7" textLength="59.06" lengthAdjust="spacingAndGlyphs">3.8</text>
<circle cx="433.2" cy="315.8" r="5" fill="#00ff00"/>
<text x="242.47" y="372" font-style="italic" textLength="34" lengthAdjust="spacingAndGlyphs">U</text>
<text x="292.48" y="372.81" font-size="39.2" textLength="37.48" lengthAdjust="spacingAndGlyphs">=</text>
<text x="342.86" y="371.7" textLength="58.51" lengthAdjust="spacingAndGlyphs">4.2</text>
<circle cx="433.2" cy="358.8" r="5" fill="#0000ff"/>
<text x="242.47" y="415" font-style="italic" textLength="34" lengthAdjust="spacingAndGlyphs">U</text>
<text x="292.48" y="415.81" font-size="39.2" textLength="37.48" lengthAdjust="spacingAndGlyphs">=</text>
<text x="342.88" y="414.7" textLength="57.29" lengthAdjust="spacingAndGlyphs">4.6</text>
<circle cx="433.2" cy="401.8" r="5" fill="#fa8072"/>
<text x="242.47" y="458" font-style="italic" textLength="34" lengthAdjust="spacingAndGlyphs">U</text>
<text x="292.48" y="458.81" font-size="39.2" textLength="37.48" lengthAdjust="spacingAndGlyphs">=</text>
<text x="341.04" y="457.7" textLength="59.58" lengthAdjust="spacingAndGlyphs">5.0</text>
<circle cx="433.2" cy="444.8" r="5" fill="#00ffff"/>
<text x="242.47" y="501" font-style="italic" textLength="34" lengthAdjust="spacingAndGlyphs">U</text>
<text x="292.48" y="501.81" font-size="39.2" textLength="37.48" lengthAdjust="spacingAndGlyphs">=</text>
<text x="341.09" y="500.7" textLength="58.46" lengthAdjust="spacingAndGlyphs">5.4</text>
<circle cx="433.2" cy="487.8" r="5" fill="#ff00ff"/>
<text x="242.47" y="544" font-style="italic" textLength="34" lengthAdjust="spacingAndGlyphs">U</text>
<text x="292.48" y="544.81" font-size="39.2" textLength="37.48" lengthAdjust="spacingAndGlyphs">=</text>
<text x="341.04" y="543.7" textLength="59.58" lengthAdjust="spacingAndGlyphs">5.8</text>
<circle cx="433.2" cy="530.8" r="5" fill="#006400"/>
<rect x="212.9" y="96.7" width="766.7" height="468.7" fill="none" stroke="#000" stroke-width="1.9"/>
<clipPath id="clipR0"><rect x="1191" y="192.6" width="473" height="372.9"/></clipPath>
<g clip-path="url(#clipR0)">
<polyline points="1224.79,526.97 1292.36,524.07 1359.93,530.28 1427.5,529.04 1495.07,526.14 1562.64,479.73 1630.21,258.06 1697.79,-934.39" fill="none" stroke="#fa8072" stroke-width="1.1" stroke-dasharray="6,3.5"/>
</g>
<circle cx="1224.79" cy="526.97" r="9.4" fill="#fa8072"/>
<circle cx="1292.36" cy="524.07" r="9.4" fill="#fa8072"/>
<circle cx="1359.93" cy="530.28" r="9.4" fill="#fa8072"/>
<circle cx="1427.5" cy="529.04" r="9.4" fill="#fa8072"/>
<circle cx="1495.07" cy="526.14" r="9.4" fill="#fa8072"/>
<circle cx="1562.64" cy="479.73" r="9.4" fill="#fa8072"/>
<circle cx="1630.21" cy="258.06" r="9.4" fill="#fa8072"/>
<line x1="1191" y1="520.92" x2="1664" y2="520.92" stroke="#4169e1" stroke-width="3.2"/>
<line x1="1191" y1="527.59" x2="1664" y2="527.59" stroke="#303030" stroke-width="1.3" stroke-dasharray="7.5,4.3"/>
<line x1="1224.79" y1="565.5" x2="1224.79" y2="553.5" stroke="#000" stroke-width="1.9"/>
<line x1="1224.79" y1="192.6" x2="1224.79" y2="204.6" stroke="#000" stroke-width="1.9"/>
<line x1="1309.25" y1="565.5" x2="1309.25" y2="553.5" stroke="#000" stroke-width="1.9"/>
<line x1="1309.25" y1="192.6" x2="1309.25" y2="204.6" stroke="#000" stroke-width="1.9"/>
<line x1="1393.71" y1="565.5" x2="1393.71" y2="553.5" stroke="#000" stroke-width="1.9"/>
<line x1="1393.71" y1="192.6" x2="1393.71" y2="204.6" stroke="#000" stroke-width="1.9"/>
<line x1="1478.18" y1="565.5" x2="1478.18" y2="553.5" stroke="#000" stroke-width="1.9"/>
<line x1="1478.18" y1="192.6" x2="1478.18" y2="204.6" stroke="#000" stroke-width="1.9"/>
<line x1="1562.64" y1="565.5" x2="1562.64" y2="553.5" stroke="#000" stroke-width="1.9"/>
<line x1="1562.64" y1="192.6" x2="1562.64" y2="204.6" stroke="#000" stroke-width="1.9"/>
<line x1="1647.11" y1="565.5" x2="1647.11" y2="553.5" stroke="#000" stroke-width="1.9"/>
<line x1="1647.11" y1="192.6" x2="1647.11" y2="204.6" stroke="#000" stroke-width="1.9"/>
<line x1="1267.02" y1="565.5" x2="1267.02" y2="559.5" stroke="#000" stroke-width="1.9"/>
<line x1="1267.02" y1="192.6" x2="1267.02" y2="198.6" stroke="#000" stroke-width="1.9"/>
<line x1="1351.48" y1="565.5" x2="1351.48" y2="559.5" stroke="#000" stroke-width="1.9"/>
<line x1="1351.48" y1="192.6" x2="1351.48" y2="198.6" stroke="#000" stroke-width="1.9"/>
<line x1="1435.95" y1="565.5" x2="1435.95" y2="559.5" stroke="#000" stroke-width="1.9"/>
<line x1="1435.95" y1="192.6" x2="1435.95" y2="198.6" stroke="#000" stroke-width="1.9"/>
<line x1="1520.41" y1="565.5" x2="1520.41" y2="559.5" stroke="#000" stroke-width="1.9"/>
<line x1="1520.41" y1="192.6" x2="1520.41" y2="198.6" stroke="#000" stroke-width="1.9"/>
<line x1="1604.88" y1="565.5" x2="1604.88" y2="559.5" stroke="#000" stroke-width="1.9"/>
<line x1="1604.88" y1="192.6" x2="1604.88" y2="198.6" stroke="#000" stroke-width="1.9"/>
<line x1="1191" y1="524.07" x2="1203" y2="524.07" stroke="#000" stroke-width="1.9"/>
<line x1="1664" y1="524.07" x2="1652" y2="524.07" stroke="#000" stroke-width="1.9"/>
<line x1="1191" y1="441.2" x2="1203" y2="441.2" stroke="#000" stroke-width="1.9"/>
<line x1="1664" y1="441.2" x2="1652" y2="441.2" stroke="#000" stroke-width="1.9"/>
<line x1="1191" y1="358.33" x2="1203" y2="358.33" stroke="#000" stroke-width="1.9"/>
<line x1="1664" y1="358.33" x2="1652" y2="358.33" stroke="#000" stroke-width="1.9"/>
<line x1="1191" y1="275.47" x2="1203" y2="275.47" stroke="#000" stroke-width="1.9"/>
<line x1="1664" y1="275.47" x2="1652" y2="275.47" stroke="#000" stroke-width="1.9"/>
<line x1="1191" y1="482.63" x2="1197" y2="482.63" stroke="#000" stroke-width="1.9"/>
<line x1="1664" y1="482.63" x2="1658" y2="482.63" stroke="#000" stroke-width="1.9"/>
<line x1="1191" y1="399.77" x2="1197" y2="399.77" stroke="#000" stroke-width="1.9"/>
<line x1="1664" y1="399.77" x2="1658" y2="399.77" stroke="#000" stroke-width="1.9"/>
<line x1="1191" y1="316.9" x2="1197" y2="316.9" stroke="#000" stroke-width="1.9"/>
<line x1="1664" y1="316.9" x2="1658" y2="316.9" stroke="#000" stroke-width="1.9"/>
<line x1="1191" y1="234.03" x2="1197" y2="234.03" stroke="#000" stroke-width="1.9"/>
<line x1="1664" y1="234.03" x2="1658" y2="234.03" stroke="#000" stroke-width="1.9"/>
<rect x="1191" y="192.6" width="473" height="372.9" fill="none" stroke="#000" stroke-width="1.9"/>
<text x="1219.94" y="618.2" textLength="23.28" lengthAdjust="spacingAndGlyphs">3</text>
<text x="1286.94" y="618.2" textLength="58.2" lengthAdjust="spacingAndGlyphs">3.5</text>
<text x="1388.98" y="618.2" textLength="23.28" lengthAdjust="spacingAndGlyphs">4</text>
<text x="1456.52" y="618.2" textLength="58.2" lengthAdjust="spacingAndGlyphs">4.5</text>
<text x="1557.56" y="618.2" textLength="23.28" lengthAdjust="spacingAndGlyphs">5</text>
<text x="1624.56" y="618.2" textLength="58.2" lengthAdjust="spacingAndGlyphs">5.5</text>
<text x="1144.36" y="536.97" textLength="23.21" lengthAdjust="spacingAndGlyphs">0</text>
<text x="1087.12" y="454.1" textLength="81.23" lengthAdjust="spacingAndGlyphs">0.02</text>
<text x="1085.31" y="371.23" textLength="81.23" lengthAdjust="spacingAndGlyphs">0.04</text>
<text x="1085.96" y="288.37" textLength="81.23" lengthAdjust="spacingAndGlyphs">0.06</text>
<text x="1086.34" y="205.5" textLength="81.23" lengthAdjust="spacingAndGlyphs">0.08</text>
<text x="1407.87" y="676.62" font-style="italic" textLength="34" lengthAdjust="spacingAndGlyphs">U</text>
<g transform="translate(1060.6,379.05) rotate(-90)">
<text x="-15.04" y="-0.52" font-style="italic" font-size="42.12" textLength="26.96" lengthAdjust="spacingAndGlyphs">α</text>
</g>
<text x="1317.2" y="261" textLength="154.42" lengthAdjust="spacingAndGlyphs">baseline</text>
<text x="1286.2" y="307.2" textLength="184.37" lengthAdjust="spacingAndGlyphs">threshold</text>
<text x="1269.36" y="307.2" textLength="14.73" lengthAdjust="spacingAndGlyphs">-</text>
<text x="1242.07" y="307.2" font-style="italic" textLength="25.11" lengthAdjust="spacingAndGlyphs">σ</text>
<text x="1219.86" y="307.2" textLength="24.31" lengthAdjust="spacingAndGlyphs">2</text>
<line x1="1494.8" y1="247.9" x2="1553.6" y2="247.9" stroke="#5a5a5a" stroke-width="1.7" stroke-dasharray="7.9,3.7"/>
<line x1="1494.8" y1="294.5" x2="1553.6" y2="294.5" stroke="#4169e1" stroke-width="2.9"/>
<rect x="1.5" y="799.35" width="1710" height="671.25" rx="16" ry="16" fill="none" stroke="#000" stroke-width="2.8"/>
<rect x="46.5" y="759.4" width="202.5" height="61.3" rx="9" ry="9" fill="#404040"/>
<rect x="39.6" y="753" width="199.8" height="58.2" rx="9" ry="9" fill="#fff" stroke="#000" stroke-width="2.7"/>
<text x="61.06" y="798.1" font-size="51.06" textLength="37.88" lengthAdjust="spacingAndGlyphs">Δ</text>
<text x="110.56" y="800.05" font-size="40.8" textLength="37.72" lengthAdjust="spacingAndGlyphs">=</text>
<text x="159.73" y="798.13" textLength="58.91" lengthAdjust="spacingAndGlyphs">2.5</text>
<clipPath id="clipL751"><rect x="212.9" y="848.1" width="766.7" height="469.1"/></clipPath>
<line x1="335.38" y1="1317.2" x2="335.38" y2="1305.2" stroke="#000" stroke-width="1.9"/>
<line x1="335.38" y1="848.1" x2="335.38" y2="860.1" stroke="#000" stroke-width="1.9"/>
<line x1="543.15" y1="1317.2" x2="543.15" y2="1305.2" stroke="#000" stroke-width="1.9"/>
<line x1="543.15" y1="848.1" x2="543.15" y2="860.1" stroke="#000" stroke-width="1.9"/>
<line x1="750.92" y1="1317.2" x2="750.92" y2="1305.2" stroke="#000" stroke-width="1.9"/>
<line x1="750.92" y1="848.1" x2="750.92" y2="860.1" stroke="#000" stroke-width="1.9"/>
<line x1="958.7" y1="1317.2" x2="958.7" y2="1305.2" stroke="#000" stroke-width="1.9"/>
<line x1="958.7" y1="848.1" x2="958.7" y2="860.1" stroke="#000" stroke-width="1.9"/>
<line x1="231.49" y1="1317.2" x2="231.49" y2="1311.2" stroke="#000" stroke-width="1.9"/>
<line x1="231.49" y1="848.1" x2="231.49" y2="854.1" stroke="#000" stroke-width="1.9"/>
<line x1="439.26" y1="1317.2" x2="439.26" y2="1311.2" stroke="#000" stroke-width="1.9"/>
<line x1="439.26" y1="848.1" x2="439.26" y2="854.1" stroke="#000" stroke-width="1.9"/>
<line x1="647.04" y1="1317.2" x2="647.04" y2="1311.2" stroke="#000" stroke-width="1.9"/>
<line x1="647.04" y1="848.1" x2="647.04" y2="854.1" stroke="#000" stroke-width="1.9"/>
<line x1="854.81" y1="1317.2" x2="854.81" y2="1311.2" stroke="#000" stroke-width="1.9"/>
<line x1="854.81" y1="848.1" x2="854.81" y2="854.1" stroke="#000" stroke-width="1.9"/>
<line x1="212.9" y1="857.3" x2="224.9" y2="857.3" stroke="#000" stroke-width="1.9"/>
<line x1="979.6" y1="857.3" x2="967.6" y2="857.3" stroke="#000" stroke-width="1.9"/>
<line x1="212.9" y1="945.8" x2="224.9" y2="945.8" stroke="#000" stroke-width="1.9"/>
<line x1="979.6" y1="945.8" x2="967.6" y2="945.8" stroke="#000" stroke-width="1.9"/>
<line x1="212.9" y1="1034.3" x2="224.9" y2="1034.3" stroke="#000" stroke-width="1.9"/>
<line x1="979.6" y1="1034.3" x2="967.6" y2="1034.3" stroke="#000" stroke-width="1.9"/>
<line x1="212.9" y1="1122.8" x2="224.9" y2="1122.8" stroke="#000" stroke-width="1.9"/>
<line x1="979.6" y1="1122.8" x2="967.6" y2="1122.8" stroke="#000" stroke-width="1.9"/>
<line x1="212.9" y1="1211.3" x2="224.9" y2="1211.3" stroke="#000" stroke-width="1.9"/>
<line x1="979.6" y1="1211.3" x2="967.6" y2="1211.3" stroke="#000" stroke-width="1.9"/>
<line x1="212.9" y1="1299.8" x2="224.9" y2="1299.8" stroke="#000" stroke-width="1.9"/>
<line x1="979.6" y1="1299.8" x2="967.6" y2="1299.8" stroke="#000" stroke-width="1.9"/>
<line x1="212.9" y1="901.55" x2="218.9" y2="901.55" stroke="#000" stroke-width="1.9"/>
<line x1="979.6" y1="901.55" x2="973.6" y2="901.55" stroke="#000" stroke-width="1.9"/>
<line x1="212.9" y1="990.05" x2="218.9" y2="990.05" stroke="#000" stroke-width="1.9"/>
<line x1="979.6" y1="990.05" x2="973.6" y2="990.05" stroke="#000" stroke-width="1.9"/>
<line x1="212.9" y1="1078.55" x2="218.9" y2="1078.55" stroke="#000" stroke-width="1.9"/>
<line x1="979.6" y1="1078.55" x2="973.6" y2="1078.55" stroke="#000" stroke-width="1.9"/>
<line x1="212.9" y1="1167.05" x2="218.9" y2="1167.05" stroke="#000" stroke-width="1.9"/>
<line x1="979.6" y1="1167.05" x2="973.6" y2="1167.05" stroke="#000" stroke-width="1.9"/>
<line x1="212.9" y1="1255.55" x2="218.9" y2="1255.55" stroke="#000" stroke-width="1.9"/>
<line x1="979.6" y1="1255.55" x2="973.6" y2="1255.55" stroke="#000" stroke-width="1.9"/>
<g clip-path="url(#clipL751)">
<polyline points="212.9,1026.4 258.29,1038.89 300.98,1050.66 341.23,1061.75 379.24,1072.23 415.19,1082.14 449.24,1091.53 481.52,1100.45 512.17,1112.35 541.28,1120.79 568.95,1130.66 595.28,1140.53 620.33,1149.24 644.17,1157.53 666.87,1165.73 688.48,1173.14 709.06,1181.68 728.64,1191.07 747.28,1198.85 765.01,1205.97 781.86,1213.62 797.87,1221.05 813.06,1227.68 827.47,1233.48 841.12,1239.87 854.03,1246.84 866.22,1251.52 877.71,1257.7 888.52,1263.47 898.66,1267.54 908.16,1270.51 917.02,1274.68 925.25,1279.27 932.87,1284.48 939.88,1290.16 946.31,1294.38 952.14,1297.17 957.4,1299.42 962.09,1301.2 966.22,1302.55 969.78,1303.45 972.79,1304.13 975.24,1304.55 977.15,1304.88 978.51,1305.11 979.33,1305.25 979.6,1305.3" fill="none" stroke="#fcb924" stroke-width="1.05"/>
</g>
<circle cx="212.9" cy="1026.4" r="5" fill="#fcb924"/>
<circle cx="258.29" cy="1038.89" r="5" fill="#fcb924"/>
<circle cx="300.98" cy="1050.66" r="5" fill="#fcb924"/>
<circle cx="341.23" cy="1061.75" r="5" fill="#fcb924"/>
<circle cx="379.24" cy="1072.23" r="5" fill="#fcb924"/>
<circle cx="415.19" cy="1082.14" r="5" fill="#fcb924"/>
<circle cx="449.24" cy="1091.53" r="5" fill="#fcb924"/>
<circle cx="481.52" cy="1100.45" r="5" fill="#fcb924"/>
<circle cx="512.17" cy="1112.35" r="5" fill="#fcb924"/>
<circle cx="541.28" cy="1120.79" r="5" fill="#fcb924"/>
<circle cx="568.95" cy="1130.66" r="5" fill="#fcb924"/>
<circle cx="595.28" cy="1140.53" r="5" fill="#fcb924"/>
<circle cx="620.33" cy="1149.24" r="5" fill="#fcb924"/>
<circle cx="644.17" cy="1157.53" r="5" fill="#fcb924"/>
<circle cx="666.87" cy="1165.73" r="5" fill="#fcb924"/>
<circle cx="688.48" cy="1173.14" r="5" fill="#fcb924"/>
<circle cx="709.06" cy="1181.68" r="5" fill="#fcb924"/>
<circle cx="728.64" cy="1191.07" r="5" fill="#fcb924"/>
<circle cx="747.28" cy="1198.85" r="5" fill="#fcb924"/>
<circle cx="765.01" cy="1205.97" r="5" fill="#fcb924"/>
<circle cx="781.86" cy="1213.62" r="5" fill="#fcb924"/>
<circle cx="797.87" cy="1221.05" r="5" fill="#fcb924"/>
<circle cx="813.06" cy="1227.68" r="5" fill="#fcb924"/>
<circle cx="827.47" cy="1233.48" r="5" fill="#fcb924"/>
<circle cx="841.12" cy="1239.87" r="5" fill="#fcb924"/>
<circle cx="854.03" cy="1246.84" r="5" fill="#fcb924"/>
<circle cx="866.22" cy="1251.52" r="5" fill="#fcb924"/>
<circle cx="877.71" cy="1257.7" r="5" fill="#fcb924"/>
<circle cx="888.52" cy="1263.47" r="5" fill="#fcb924"/>
<circle cx="898.66" cy="1267.54" r="5" fill="#fcb924"/>
<circle cx="908.16" cy="1270.51" r="5" fill="#fcb924"/>
<circle cx="917.02" cy="1274.68" r="5" fill="#fcb924"/>
<circle cx="925.25" cy="1279.27" r="5" fill="#fcb924"/>
<circle cx="932.87" cy="1284.48" r="5" fill="#fcb924"/>
<circle cx="939.88" cy="1290.16" r="5" fill="#fcb924"/>
<circle cx="946.31" cy="1294.38" r="5" fill="#fcb924"/>
<circle cx="952.14" cy="1297.17" r="5" fill="#fcb924"/>
<circle cx="957.4" cy="1299.42" r="5" fill="#fcb924"/>
<circle cx="962.09" cy="1301.2" r="5" fill="#fcb924"/>
<circle cx="966.22" cy="1302.55" r="5" fill="#fcb924"/>
<circle cx="969.78" cy="1303.45" r="5" fill="#fcb924"/>
<circle cx="972.79" cy="1304.13" r="5" fill="#fcb924"/>
<circle cx="975.24" cy="1304.55" r="5" fill="#fcb924"/>
<circle cx="977.15" cy="1304.88" r="5" fill="#fcb924"/>
<circle cx="978.51" cy="1305.11" r="5" fill="#fcb924"/>
<circle cx="979.33" cy="1305.25" r="5" fill="#fcb924"/>
<circle cx="979.6" cy="1305.3" r="5" fill="#fcb924"/>
<g clip-path="url(#clipL751)">
<polyline points="212.9,930.87 258.29,938.45 300.98,945.73 341.23,952.72 379.24,959.43 415.19,965.89 449.24,972.1 481.52,978.07 512.17,983.81 541.28,989.33 568.95,994.64 595.28,999.75 620.33,1004.66 644.17,1009.38 666.87,1013.91 688.48,1018.27 709.06,1022.45 728.64,1026.45 747.28,1030.3 765.01,1033.97 781.86,1037.5 797.87,1040.86 813.06,1044.07 827.47,1047.14 841.12,1050.05 854.03,1052.82 866.22,1055.45 877.71,1057.94 888.52,1060.29 898.66,1062.51 908.16,1064.59 917.02,1066.53 925.25,1068.35 932.87,1070.03 939.88,1071.59 946.31,1073.01 952.14,1074.31 957.4,1075.48 962.09,1076.53 966.22,1077.46 969.78,1078.25 972.79,1078.93 975.24,1079.48 977.15,1079.91 978.51,1080.21 979.33,1080.4 979.6,1080.46" fill="none" stroke="#ff0000" stroke-width="1.05"/>
</g>
<circle cx="212.9" cy="930.87" r="5" fill="#ff0000"/>
<circle cx="258.29" cy="938.45" r="5" fill="#ff0000"/>
<circle cx="300.98" cy="945.73" r="5" fill="#ff0000"/>
<circle cx="341.23" cy="952.72" r="5" fill="#ff0000"/>
<circle cx="379.24" cy="959.43" r="5" fill="#ff0000"/>
<circle cx="415.19" cy="965.89" r="5" fill="#ff0000"/>
<circle cx="449.24" cy="972.1" r="5" fill="#ff0000"/>
<circle cx="481.52" cy="978.07" r="5" fill="#ff0000"/>
<circle cx="512.17" cy="983.81" r="5" fill="#ff0000"/>
<circle cx="541.28" cy="989.33" r="5" fill="#ff0000"/>
<circle cx="568.95" cy="994.64" r="5" fill="#ff0000"/>
<circle cx="595.28" cy="999.75" r="5" fill="#ff0000"/>
<circle cx="620.33" cy="1004.66" r="5" fill="#ff0000"/>
<circle cx="644.17" cy="1009.38" r="5" fill="#ff0000"/>
<circle cx="666.87" cy="1013.91" r="5" fill="#ff0000"/>
<circle cx="688.48" cy="1018.27" r="5" fill="#ff0000"/>
<circle cx="709.06" cy="1022.45" r="5" fill="#ff0000"/>
<circle cx="728.64" cy="1026.45" r="5" fill="#ff0000"/>
<circle cx="747.28" cy="1030.3" r="5" fill="#ff0000"/>
<circle cx="765.01" cy="1033.97" r="5" fill="#ff0000"/>
<circle cx="781.86" cy="1037.5" r="5" fill="#ff0000"/>
<circle cx="797.87" cy="1040.86" r="5" fill="#ff0000"/>
<circle cx="813.06" cy="1044.07" r="5" fill="#ff0000"/>
<circle cx="827.47" cy="1047.14" r="5" fill="#ff0000"/>
<circle cx="841.12" cy="1050.05" r="5" fill="#ff0000"/>
<circle cx="854.03" cy="1052.82" r="5" fill="#ff0000"/>
<circle cx="866.22" cy="1055.45" r="5" fill="#ff0000"/>
<circle cx="877.71" cy="1057.94" r="5" fill="#ff0000"/>
<circle cx="888.52" cy="1060.29" r="5" fill="#ff0000"/>
<circle cx="898.66" cy="1062.51" r="5" fill="#ff0000"/>
<circle cx="908.16" cy="1064.59" r="5" fill="#ff0000"/>
<circle cx="917.02" cy="1066.53" r="5" fill="#ff0000"/>
<circle cx="925.25" cy="1068.35" r="5" fill="#ff0000"/>
<circle cx="932.87" cy="1070.03" r="5" fill="#ff0000"/>
<circle cx="939.88" cy="1071.59" r="5" fill="#ff0000"/>
<circle cx="946.31" cy="1073.01" r="5" fill="#ff0000"/>
<circle cx="952.14" cy="1074.31" r="5" fill="#ff0000"/>
<circle cx="957.4" cy="1075.48" r="5" fill="#ff0000"/>
<circle cx="962.09" cy="1076.53" r="5" fill="#ff0000"/>
<circle cx="966.22" cy="1077.46" r="5" fill="#ff0000"/>
<circle cx="969.78" cy="1078.25" r="5" fill="#ff0000"/>
<circle cx="972.79" cy="1078.93" r="5" fill="#ff0000"/>
<circle cx="975.24" cy="1079.48" r="5" fill="#ff0000"/>
<circle cx="977.15" cy="1079.91" r="5" fill="#ff0000"/>
<circle cx="978.51" cy="1080.21" r="5" fill="#ff0000"/>
<circle cx="979.33" cy="1080.4" r="5" fill="#ff0000"/>
<circle cx="979.6" cy="1080.46" r="5" fill="#ff0000"/>
<g clip-path="url(#clipL751)">
<polyline points="212.9,882.41 258.29,888.17 300.98,893.58 341.23,898.68 379.24,903.5 415.19,908.06 449.24,912.37 481.52,916.46 512.17,920.34 541.28,924.02 568.95,927.52 595.28,930.85 620.33,934.02 644.17,937.04 666.87,939.9 688.48,942.64 709.06,945.24 728.64,947.71 747.28,950.06 765.01,952.3 781.86,954.43 797.87,956.45 813.06,958.37 827.47,960.19 841.12,961.91 854.03,963.54 866.22,965.08 877.71,966.53 888.52,967.89 898.66,969.17 908.16,970.37 917.02,971.48 925.25,972.52 932.87,973.48 939.88,974.37 946.31,975.18 952.14,975.91 957.4,976.58 962.09,977.17 966.22,977.69 969.78,978.14 972.79,978.52 975.24,978.82 977.15,979.07 978.51,979.24 979.33,979.34 979.6,979.37" fill="none" stroke="#00ff00" stroke-width="1.05"/>
</g>
<circle cx="212.9" cy="882.41" r="5" fill="#00ff00"/>
<circle cx="258.29" cy="888.17" r="5" fill="#00ff00"/>
<circle cx="300.98" cy="893.58" r="5" fill="#00ff00"/>
<circle cx="341.23" cy="898.68" r="5" fill="#00ff00"/>
<circle cx="379.24" cy="903.5" r="5" fill="#00ff00"/>
<circle cx="415.19" cy="908.06" r="5" fill="#00ff00"/>
<circle cx="449.24" cy="912.37" r="5" fill="#00ff00"/>
<circle cx="481.52" cy="916.46" r="5" fill="#00ff00"/>
<circle cx="512.17" cy="920.34" r="5" fill="#00ff00"/>
<circle cx="541.28" cy="924.02" r="5" fill="#00ff00"/>
<circle cx="568.95" cy="927.52" r="5" fill="#00ff00"/>
<circle cx="595.28" cy="930.85" r="5" fill="#00ff00"/>
<circle cx="620.33" cy="934.02" r="5" fill="#00ff00"/>
<circle cx="644.17" cy="937.04" r="5" fill="#00ff00"/>
<circle cx="666.87" cy="939.9" r="5" fill="#00ff00"/>
<circle cx="688.48" cy="942.64" r="5" fill="#00ff00"/>
<circle cx="709.06" cy="945.24" r="5" fill="#00ff00"/>
<circle cx="728.64" cy="947.71" r="5" fill="#00ff00"/>
<circle cx="747.28" cy="950.06" r="5" fill="#00ff00"/>
<circle cx="765.01" cy="952.3" r="5" fill="#00ff00"/>
<circle cx="781.86" cy="954.43" r="5" fill="#00ff00"/>
<circle cx="797.87" cy="956.45" r="5" fill="#00ff00"/>
<circle cx="813.06" cy="958.37" r="5" fill="#00ff00"/>
<circle cx="827.47" cy="960.19" r="5" fill="#00ff00"/>
<circle cx="841.12" cy="961.91" r="5" fill="#00ff00"/>
<circle cx="854.03" cy="963.54" r="5" fill="#00ff00"/>
<circle cx="866.22" cy="965.08" r="5" fill="#00ff00"/>
<circle cx="877.71" cy="966.53" r="5" fill="#00ff00"/>
<circle cx="888.52" cy="967.89" r="5" fill="#00ff00"/>
<circle cx="898.66" cy="969.17" r="5" fill="#00ff00"/>
<circle cx="908.16" cy="970.37" r="5" fill="#00ff00"/>
<circle cx="917.02" cy="971.48" r="5" fill="#00ff00"/>
<circle cx="925.25" cy="972.52" r="5" fill="#00ff00"/>
<circle cx="932.87" cy="973.48" r="5" fill="#00ff00"/>
<circle cx="939.88" cy="974.37" r="5" fill="#00ff00"/>
<circle cx="946.31" cy="975.18" r="5" fill="#00ff00"/>
<circle cx="952.14" cy="975.91" r="5" fill="#00ff00"/>
<circle cx="957.4" cy="976.58" r="5" fill="#00ff00"/>
<circle cx="962.09" cy="977.17" r="5" fill="#00ff00"/>
<circle cx="966.22" cy="977.69" r="5" fill="#00ff00"/>
<circle cx="969.78" cy="978.14" r="5" fill="#00ff00"/>
<circle cx="972.79" cy="978.52" r="5" fill="#00ff00"/>
<circle cx="975.24" cy="978.82" r="5" fill="#00ff00"/>
<circle cx="977.15" cy="979.07" r="5" fill="#00ff00"/>
<circle cx="978.51" cy="979.24" r="5" fill="#00ff00"/>
<circle cx="979.33" cy="979.34" r="5" fill="#00ff00"/>
<circle cx="979.6" cy="979.37" r="5" fill="#00ff00"/>
<g clip-path="url(#clipL751)">
<polyline points="212.9,866.59 258.29,871.33 300.98,875.77 341.23,879.96 379.24,883.9 415.19,887.63 449.24,891.16 481.52,894.5 512.17,897.67 541.28,900.68 568.95,903.54 595.28,906.25 620.33,908.83 644.17,911.29 666.87,913.62 688.48,915.85 709.06,917.96 728.64,919.97 747.28,921.89 765.01,923.7 781.86,925.43 797.87,927.07 813.06,928.63 827.47,930.1 841.12,931.5 854.03,932.82 866.22,934.07 877.71,935.24 888.52,936.34 898.66,937.38 908.16,938.35 917.02,939.25 925.25,940.09 932.87,940.87 939.88,941.59 946.31,942.24 952.14,942.84 957.4,943.37 962.09,943.85 966.22,944.27 969.78,944.63 972.79,944.94 975.24,945.19 977.15,945.38 978.51,945.52 979.33,945.61 979.6,945.63" fill="none" stroke="#0000ff" stroke-width="1.05"/>
</g>
<polygon points="205,862.26 220.8,862.26 212.9,875.26" fill="#0000ff"/>
<polygon points="250.39,866.99 266.19,866.99 258.29,879.99" fill="#0000ff"/>
<polygon points="293.08,871.44 308.88,871.44 300.98,884.44" fill="#0000ff"/>
<polygon points="333.33,875.62 349.13,875.62 341.23,888.62" fill="#0000ff"/>
<polygon points="371.34,879.57 387.14,879.57 379.24,892.57" fill="#0000ff"/>
<polygon points="407.29,883.3 423.09,883.3 415.19,896.3" fill="#0000ff"/>
<polygon points="441.34,886.83 457.14,886.83 449.24,899.83" fill="#0000ff"/>
<polygon points="473.62,890.17 489.42,890.17 481.52,903.17" fill="#0000ff"/>
<polygon points="504.27,893.34 520.07,893.34 512.17,906.34" fill="#0000ff"/>
<polygon points="533.38,896.35 549.18,896.35 541.28,909.35" fill="#0000ff"/>
<polygon points="561.05,899.2 576.85,899.2 568.95,912.2" fill="#0000ff"/>
<polygon points="587.38,901.92 603.18,901.92 595.28,914.92" fill="#0000ff"/>
<polygon points="612.43,904.5 628.23,904.5 620.33,917.5" fill="#0000ff"/>
<polygon points="636.27,906.96 652.07,906.96 644.17,919.96" fill="#0000ff"/>
<polygon points="658.97,909.29 674.77,909.29 666.87,922.29" fill="#0000ff"/>
<polygon points="680.58,911.51 696.38,911.51 688.48,924.51" fill="#0000ff"/>
<polygon points="701.16,913.63 716.96,913.63 709.06,926.63" fill="#0000ff"/>
<polygon points="720.74,915.64 736.54,915.64 728.64,928.64" fill="#0000ff"/>
<polygon points="739.38,917.55 755.18,917.55 747.28,930.55" fill="#0000ff"/>
<polygon points="757.11,919.37 772.91,919.37 765.01,932.37" fill="#0000ff"/>
<polygon points="773.96,921.1 789.76,921.1 781.86,934.1" fill="#0000ff"/>
<polygon points="789.97,922.74 805.77,922.74 797.87,935.74" fill="#0000ff"/>
<polygon points="805.16,924.29 820.96,924.29 813.06,937.29" fill="#0000ff"/>
<polygon points="819.57,925.77 835.37,925.77 827.47,938.77" fill="#0000ff"/>
<polygon points="833.22,927.17 849.02,927.17 841.12,940.17" fill="#0000ff"/>
<polygon points="846.13,928.49 861.93,928.49 854.03,941.49" fill="#0000ff"/>
<polygon points="858.32,929.73 874.12,929.73 866.22,942.73" fill="#0000ff"/>
<polygon points="869.81,930.91 885.61,930.91 877.71,943.91" fill="#0000ff"/>
<polygon points="880.62,932.01 896.42,932.01 888.52,945.01" fill="#0000ff"/>
<polygon points="890.76,933.05 906.56,933.05 898.66,946.05" fill="#0000ff"/>
<polygon points="900.26,934.02 916.06,934.02 908.16,947.02" fill="#0000ff"/>
<polygon points="909.12,934.92 924.92,934.92 917.02,947.92" fill="#0000ff"/>
<polygon points="917.35,935.76 933.15,935.76 925.25,948.76" fill="#0000ff"/>
<polygon points="924.97,936.54 940.77,936.54 932.87,949.54" fill="#0000ff"/>
<polygon points="931.98,937.25 947.78,937.25 939.88,950.25" fill="#0000ff"/>
<polygon points="938.41,937.91 954.21,937.91 946.31,950.91" fill="#0000ff"/>
<polygon points="944.24,938.5 960.04,938.5 952.14,951.5" fill="#0000ff"/>
<polygon points="949.5,939.04 965.3,939.04 957.4,952.04" fill="#0000ff"/>
<polygon points="954.19,939.52 969.99,939.52 962.09,952.52" fill="#0000ff"/>
<polygon points="958.32,939.94 974.12,939.94 966.22,952.94" fill="#0000ff"/>
<polygon points="961.88,940.3 977.68,940.3 969.78,953.3" fill="#0000ff"/>
<polygon points="964.89,940.61 980.69,940.61 972.79,953.61" fill="#0000ff"/>
<polygon points="967.34,940.86 983.14,940.86 975.24,953.86" fill="#0000ff"/>
<polygon points="969.25,941.05 985.05,941.05 977.15,954.05" fill="#0000ff"/>
<polygon points="970.61,941.19 986.41,941.19 978.51,954.19" fill="#0000ff"/>
<polygon points="971.43,941.27 987.23,941.27 979.33,954.27" fill="#0000ff"/>
<polygon points="971.7,941.3 987.5,941.3 979.6,954.3" fill="#0000ff"/>
<g clip-path="url(#clipL751)">
<polyline points="212.9,867.26 258.29,871.46 300.98,875.44 341.23,879.21 379.24,882.79 415.19,886.19 449.24,889.42 481.52,892.5 512.17,895.44 541.28,898.24 568.95,900.91 595.28,903.46 620.33,905.89 644.17,908.22 666.87,910.44 688.48,912.56 709.06,914.58 728.64,916.51 747.28,918.35 765.01,920.11 781.86,921.78 797.87,923.37 813.06,924.88 827.47,926.32 841.12,927.69 854.03,928.98 866.22,930.2 877.71,931.36 888.52,932.44 898.66,933.47 908.16,934.42 917.02,935.32 925.25,936.15 932.87,936.92 939.88,937.63 946.31,938.28 952.14,938.87 957.4,939.41 962.09,939.88 966.22,940.3 969.78,940.67 972.79,940.97 975.24,941.22 977.15,941.42 978.51,941.55 979.33,941.64 979.6,941.66" fill="none" stroke="#fa8072" stroke-width="1.05"/>
</g>
<rect x="207.2" y="861.56" width="11.4" height="11.4" fill="#fa8072"/>
<rect x="252.59" y="865.76" width="11.4" height="11.4" fill="#fa8072"/>
<rect x="295.28" y="869.74" width="11.4" height="11.4" fill="#fa8072"/>
<rect x="335.53" y="873.51" width="11.4" height="11.4" fill="#fa8072"/>
<rect x="373.54" y="877.09" width="11.4" height="11.4" fill="#fa8072"/>
<rect x="409.49" y="880.49" width="11.4" height="11.4" fill="#fa8072"/>
<rect x="443.54" y="883.72" width="11.4" height="11.4" fill="#fa8072"/>
<rect x="475.82" y="886.8" width="11.4" height="11.4" fill="#fa8072"/>
<rect x="506.47" y="889.74" width="11.4" height="11.4" fill="#fa8072"/>
<rect x="535.58" y="892.54" width="11.4" height="11.4" fill="#fa8072"/>
<rect x="563.25" y="895.21" width="11.4" height="11.4" fill="#fa8072"/>
<rect x="589.58" y="897.76" width="11.4" height="11.4" fill="#fa8072"/>
<rect x="614.63" y="900.19" width="11.4" height="11.4" fill="#fa8072"/>
<rect x="638.47" y="902.52" width="11.4" height="11.4" fill="#fa8072"/>
<rect x="661.17" y="904.74" width="11.4" height="11.4" fill="#fa8072"/>
<rect x="682.78" y="906.86" width="11.4" height="11.4" fill="#fa8072"/>
<rect x="703.36" y="908.88" width="11.4" height="11.4" fill="#fa8072"/>
<rect x="722.94" y="910.81" width="11.4" height="11.4" fill="#fa8072"/>
<rect x="741.58" y="912.65" width="11.4" height="11.4" fill="#fa8072"/>
<rect x="759.31" y="914.41" width="11.4" height="11.4" fill="#fa8072"/>
<rect x="776.16" y="916.08" width="11.4" height="11.4" fill="#fa8072"/>
<rect x="792.17" y="917.67" width="11.4" height="11.4" fill="#fa8072"/>
<rect x="807.36" y="919.18" width="11.4" height="11.4" fill="#fa8072"/>
<rect x="821.77" y="920.62" width="11.4" height="11.4" fill="#fa8072"/>
<rect x="835.42" y="921.99" width="11.4" height="11.4" fill="#fa8072"/>
<rect x="848.33" y="923.28" width="11.4" height="11.4" fill="#fa8072"/>
<rect x="860.52" y="924.5" width="11.4" height="11.4" fill="#fa8072"/>
<rect x="872.01" y="925.66" width="11.4" height="11.4" fill="#fa8072"/>
<rect x="882.82" y="926.74" width="11.4" height="11.4" fill="#fa8072"/>
<rect x="892.96" y="927.77" width="11.4" height="11.4" fill="#fa8072"/>
<rect x="902.46" y="928.72" width="11.4" height="11.4" fill="#fa8072"/>
<rect x="911.32" y="929.62" width="11.4" height="11.4" fill="#fa8072"/>
<rect x="919.55" y="930.45" width="11.4" height="11.4" fill="#fa8072"/>
<rect x="927.17" y="931.22" width="11.4" height="11.4" fill="#fa8072"/>
<rect x="934.18" y="931.93" width="11.4" height="11.4" fill="#fa8072"/>
<rect x="940.61" y="932.58" width="11.4" height="11.4" fill="#fa8072"/>
<rect x="946.44" y="933.17" width="11.4" height="11.4" fill="#fa8072"/>
<rect x="951.7" y="933.71" width="11.4" height="11.4" fill="#fa8072"/>
<rect x="956.39" y="934.18" width="11.4" height="11.4" fill="#fa8072"/>
<rect x="960.52" y="934.6" width="11.4" height="11.4" fill="#fa8072"/>
<rect x="964.08" y="934.97" width="11.4" height="11.4" fill="#fa8072"/>
<rect x="967.09" y="935.27" width="11.4" height="11.4" fill="#fa8072"/>
<rect x="969.54" y="935.52" width="11.4" height="11.4" fill="#fa8072"/>
<rect x="971.45" y="935.72" width="11.4" height="11.4" fill="#fa8072"/>
<rect x="972.81" y="935.85" width="11.4" height="11.4" fill="#fa8072"/>
<rect x="973.63" y="935.94" width="11.4" height="11.4" fill="#fa8072"/>
<rect x="973.9" y="935.96" width="11.4" height="11.4" fill="#fa8072"/>
<g clip-path="url(#clipL751)">
<polyline points="212.9,871.09 258.29,875.18 300.98,879.04 341.23,882.7 379.24,886.18 415.19,889.48 449.24,892.62 481.52,895.61 512.17,898.46 541.28,901.17 568.95,903.76 595.28,906.23 620.33,908.59 644.17,910.84 666.87,912.99 688.48,915.04 709.06,917 728.64,918.87 747.28,920.65 765.01,922.35 781.86,923.97 797.87,925.51 813.06,926.97 827.47,928.36 841.12,929.68 854.03,930.93 866.22,932.11 877.71,933.23 888.52,934.28 898.66,935.26 908.16,936.19 917.02,937.05 925.25,937.86 932.87,938.6 939.88,939.29 946.31,939.92 952.14,940.49 957.4,941 962.09,941.46 966.22,941.87 969.78,942.22 972.79,942.51 975.24,942.76 977.15,942.94 978.51,943.08 979.33,943.16 979.6,943.18" fill="none" stroke="#00ffff" stroke-width="1.05"/>
</g>
<polygon points="212.9,863.36 219.9,874.96 205.9,874.96" fill="#00ffff"/>
<polygon points="258.29,867.45 265.29,879.05 251.29,879.05" fill="#00ffff"/>
<polygon points="300.98,871.31 307.98,882.91 293.98,882.91" fill="#00ffff"/>
<polygon points="341.23,874.97 348.23,886.57 334.23,886.57" fill="#00ffff"/>
<polygon points="379.24,878.45 386.24,890.05 372.24,890.05" fill="#00ffff"/>
<polygon points="415.19,881.75 422.19,893.35 408.19,893.35" fill="#00ffff"/>
<polygon points="449.24,884.89 456.24,896.49 442.24,896.49" fill="#00ffff"/>
<polygon points="481.52,887.87 488.52,899.47 474.52,899.47" fill="#00ffff"/>
<polygon points="512.17,890.72 519.17,902.32 505.17,902.32" fill="#00ffff"/>
<polygon points="541.28,893.44 548.28,905.04 534.28,905.04" fill="#00ffff"/>
<polygon points="568.95,896.03 575.95,907.63 561.95,907.63" fill="#00ffff"/>
<polygon points="595.28,898.5 602.28,910.1 588.28,910.1" fill="#00ffff"/>
<polygon points="620.33,900.86 627.33,912.46 613.33,912.46" fill="#00ffff"/>
<polygon points="644.17,903.11 651.17,914.71 637.17,914.71" fill="#00ffff"/>
<polygon points="666.87,905.26 673.87,916.86 659.87,916.86" fill="#00ffff"/>
<polygon points="688.48,907.31 695.48,918.91 681.48,918.91" fill="#00ffff"/>
<polygon points="709.06,909.27 716.06,920.87 702.06,920.87" fill="#00ffff"/>
<polygon points="728.64,911.13 735.64,922.73 721.64,922.73" fill="#00ffff"/>
<polygon points="747.28,912.92 754.28,924.52 740.28,924.52" fill="#00ffff"/>
<polygon points="765.01,914.61 772.01,926.21 758.01,926.21" fill="#00ffff"/>
<polygon points="781.86,916.23 788.86,927.83 774.86,927.83" fill="#00ffff"/>
<polygon points="797.87,917.77 804.87,929.37 790.87,929.37" fill="#00ffff"/>
<polygon points="813.06,919.24 820.06,930.84 806.06,930.84" fill="#00ffff"/>
<polygon points="827.47,920.63 834.47,932.23 820.47,932.23" fill="#00ffff"/>
<polygon points="841.12,921.95 848.12,933.55 834.12,933.55" fill="#00ffff"/>
<polygon points="854.03,923.2 861.03,934.8 847.03,934.8" fill="#00ffff"/>
<polygon points="866.22,924.38 873.22,935.98 859.22,935.98" fill="#00ffff"/>
<polygon points="877.71,925.49 884.71,937.09 870.71,937.09" fill="#00ffff"/>
<polygon points="888.52,926.54 895.52,938.14 881.52,938.14" fill="#00ffff"/>
<polygon points="898.66,927.53 905.66,939.13 891.66,939.13" fill="#00ffff"/>
<polygon points="908.16,928.46 915.16,940.06 901.16,940.06" fill="#00ffff"/>
<polygon points="917.02,929.32 924.02,940.92 910.02,940.92" fill="#00ffff"/>
<polygon points="925.25,930.12 932.25,941.72 918.25,941.72" fill="#00ffff"/>
<polygon points="932.87,930.87 939.87,942.47 925.87,942.47" fill="#00ffff"/>
<polygon points="939.88,931.56 946.88,943.16 932.88,943.16" fill="#00ffff"/>
<polygon points="946.31,932.18 953.31,943.78 939.31,943.78" fill="#00ffff"/>
<polygon points="952.14,932.76 959.14,944.36 945.14,944.36" fill="#00ffff"/>
<polygon points="957.4,933.27 964.4,944.87 950.4,944.87" fill="#00ffff"/>
<polygon points="962.09,933.73 969.09,945.33 955.09,945.33" fill="#00ffff"/>
<polygon points="966.22,934.14 973.22,945.74 959.22,945.74" fill="#00ffff"/>
<polygon points="969.78,934.49 976.78,946.09 962.78,946.09" fill="#00ffff"/>
<polygon points="972.79,934.78 979.79,946.38 965.79,946.38" fill="#00ffff"/>
<polygon points="975.24,935.02 982.24,946.62 968.24,946.62" fill="#00ffff"/>
<polygon points="977.15,935.21 984.15,946.81 970.15,946.81" fill="#00ffff"/>
<polygon points="978.51,935.34 985.51,946.94 971.51,946.94" fill="#00ffff"/>
<polygon points="979.33,935.42 986.33,947.02 972.33,947.02" fill="#00ffff"/>
<polygon points="979.6,935.45 986.6,947.05 972.6,947.05" fill="#00ffff"/>
<g clip-path="url(#clipL751)">
<polyline points="212.9,885.4 258.29,889.86 300.98,894.06 341.23,898.01 379.24,901.74 415.19,905.26 449.24,908.6 481.52,911.77 512.17,914.77 541.28,917.63 568.95,920.34 595.28,922.92 620.33,925.37 644.17,927.71 666.87,929.93 688.48,932.05 709.06,934.06 728.64,935.98 747.28,937.8 765.01,939.54 781.86,941.19 797.87,942.75 813.06,944.24 827.47,945.65 841.12,946.98 854.03,948.25 866.22,949.44 877.71,950.56 888.52,951.62 898.66,952.61 908.16,953.54 917.02,954.4 925.25,955.21 932.87,955.95 939.88,956.64 946.31,957.27 952.14,957.84 957.4,958.35 962.09,958.81 966.22,959.21 969.78,959.56 972.79,959.85 975.24,960.09 977.15,960.28 978.51,960.41 979.33,960.49 979.6,960.52" fill="none" stroke="#ff00ff" stroke-width="1.05"/>
</g>
<circle cx="212.9" cy="885.4" r="5" fill="#ff00ff"/>
<circle cx="258.29" cy="889.86" r="5" fill="#ff00ff"/>
<circle cx="300.98" cy="894.06" r="5" fill="#ff00ff"/>
<circle cx="341.23" cy="898.01" r="5" fill="#ff00ff"/>
<circle cx="379.24" cy="901.74" r="5" fill="#ff00ff"/>
<circle cx="415.19" cy="905.26" r="5" fill="#ff00ff"/>
<circle cx="449.24" cy="908.6" r="5" fill="#ff00ff"/>
<circle cx="481.52" cy="911.77" r="5" fill="#ff00ff"/>
<circle cx="512.17" cy="914.77" r="5" fill="#ff00ff"/>
<circle cx="541.28" cy="917.63" r="5" fill="#ff00ff"/>
<circle cx="568.95" cy="920.34" r="5" fill="#ff00ff"/>
<circle cx="595.28" cy="922.92" r="5" fill="#ff00ff"/>
<circle cx="620.33" cy="925.37" r="5" fill="#ff00ff"/>
<circle cx="644.17" cy="927.71" r="5" fill="#ff00ff"/>
<circle cx="666.87" cy="929.93" r="5" fill="#ff00ff"/>
<circle cx="688.48" cy="932.05" r="5" fill="#ff00ff"/>
<circle cx="709.06" cy="934.06" r="5" fill="#ff00ff"/>
<circle cx="728.64" cy="935.98" r="5" fill="#ff00ff"/>
<circle cx="747.28" cy="937.8" r="5" fill="#ff00ff"/>
<circle cx="765.01" cy="939.54" r="5" fill="#ff00ff"/>
<circle cx="781.86" cy="941.19" r="5" fill="#ff00ff"/>
<circle cx="797.87" cy="942.75" r="5" fill="#ff00ff"/>
<circle cx="813.06" cy="944.24" r="5" fill="#ff00ff"/>
<circle cx="827.47" cy="945.65" r="5" fill="#ff00ff"/>
<circle cx="841.12" cy="946.98" r="5" fill="#ff00ff"/>
<circle cx="854.03" cy="948.25" r="5" fill="#ff00ff"/>
<circle cx="866.22" cy="949.44" r="5" fill="#ff00ff"/>
<circle cx="877.71" cy="950.56" r="5" fill="#ff00ff"/>
<circle cx="888.52" cy="951.62" r="5" fill="#ff00ff"/>
<circle cx="898.66" cy="952.61" r="5" fill="#ff00ff"/>
<circle cx="908.16" cy="953.54" r="5" fill="#ff00ff"/>
<circle cx="917.02" cy="954.4" r="5" fill="#ff00ff"/>
<circle cx="925.25" cy="955.21" r="5" fill="#ff00ff"/>
<circle cx="932.87" cy="955.95" r="5" fill="#ff00ff"/>
<circle cx="939.88" cy="956.64" r="5" fill="#ff00ff"/>
<circle cx="946.31" cy="957.27" r="5" fill="#ff00ff"/>
<circle cx="952.14" cy="957.84" r="5" fill="#ff00ff"/>
<circle cx="957.4" cy="958.35" r="5" fill="#ff00ff"/>
<circle cx="962.09" cy="958.81" r="5" fill="#ff00ff"/>
<circle cx="966.22" cy="959.21" r="5" fill="#ff00ff"/>
<circle cx="969.78" cy="959.56" r="5" fill="#ff00ff"/>
<circle cx="972.79" cy="959.85" r="5" fill="#ff00ff"/>
<circle cx="975.24" cy="960.09" r="5" fill="#ff00ff"/>
<circle cx="977.15" cy="960.28" r="5" fill="#ff00ff"/>
<circle cx="978.51" cy="960.41" r="5" fill="#ff00ff"/>
<circle cx="979.33" cy="960.49" r="5" fill="#ff00ff"/>
<circle cx="979.6" cy="960.52" r="5" fill="#ff00ff"/>
<g clip-path="url(#clipL751)">
<line x1="212.9" y1="1025.6" x2="979.6" y2="1238.4" stroke="#a0a0a0" stroke-width="1.05" stroke-dasharray="7.7,3.55" stroke-dashoffset="8.6"/>
<line x1="212.9" y1="931" x2="979.6" y2="1057.3" stroke="#a0a0a0" stroke-width="1.05" stroke-dasharray="7.7,3.55" stroke-dashoffset="8.6"/>
<line x1="212.9" y1="882.2" x2="979.6" y2="976.3" stroke="#a0a0a0" stroke-width="1.05" stroke-dasharray="7.7,3.55" stroke-dashoffset="8.6"/>
</g>
<text x="313.83" y="1369.8" textLength="58.8" lengthAdjust="spacingAndGlyphs">1.3</text>
<text x="521.06" y="1369.8" textLength="58.8" lengthAdjust="spacingAndGlyphs">1.4</text>
<text x="729.37" y="1369.8" textLength="58.8" lengthAdjust="spacingAndGlyphs">1.5</text>
<text x="936.93" y="1369.8" textLength="58.8" lengthAdjust="spacingAndGlyphs">1.6</text>
<text x="114.89" y="869.8">-0.3</text>
<text x="113.78" y="958.3">-0.4</text>
<text x="114.89" y="1046.8">-0.5</text>
<text x="114.46" y="1135.3">-0.6</text>
<text x="114.41" y="1223.8">-0.7</text>
<text x="114.84" y="1312.3">-0.8</text>
<text x="474.88" y="1428.4" textLength="58.48" lengthAdjust="spacingAndGlyphs">log</text>
<text x="533.05" y="1439.1" font-size="32.5" textLength="33.52" lengthAdjust="spacingAndGlyphs">10</text>
<text x="577.63" y="1428.4" textLength="138.04" lengthAdjust="spacingAndGlyphs">[crd(r)]</text>
<g transform="translate(65.6,1192.4) rotate(-90)">
<text x="-0.91" y="0" textLength="58.37" lengthAdjust="spacingAndGlyphs">log</text>
<text x="57.39" y="12" font-size="32.5" textLength="33.07" lengthAdjust="spacingAndGlyphs">10</text>
<text x="102.6" y="0.54" font-size="51.21" textLength="8.01" lengthAdjust="spacingAndGlyphs">|</text>
<text x="112.46" y="0" font-style="italic" textLength="35.07" lengthAdjust="spacingAndGlyphs">C</text>
<text x="116.7" y="9.98" font-size="61.54" textLength="29.82" lengthAdjust="spacingAndGlyphs">‾</text>
<text x="152.35" y="0" font-size="50" textLength="13.22" lengthAdjust="spacingAndGlyphs">(</text>
<text x="165.7" y="0" font-style="italic" textLength="20.84" lengthAdjust="spacingAndGlyphs">r</text>
<text x="190.28" y="0" font-size="50" textLength="13.74" lengthAdjust="spacingAndGlyphs">)</text>
<text x="209.2" y="0.54" font-size="51.21" textLength="8.01" lengthAdjust="spacingAndGlyphs">|</text>
</g>
<rect x="236.3" y="1001" width="229.8" height="303.9" fill="#fff" stroke="#000" stroke-width="1.9"/>
<text x="242.47" y="1037.5" font-style="italic" textLength="34" lengthAdjust="spacingAndGlyphs">U</text>
<text x="292.48" y="1038.31" font-size="39.2" textLength="37.48" lengthAdjust="spacingAndGlyphs">=</text>
<text x="342.03" y="1037.2" textLength="58.16" lengthAdjust="spacingAndGlyphs">0.6</text>
<circle cx="433.2" cy="1024.3" r="5" fill="#fcb924"/>
<text x="242.47" y="1080.5" font-style="italic" textLength="34" lengthAdjust="spacingAndGlyphs">U</text>
<text x="292.48" y="1081.31" font-size="39.2" textLength="37.48" lengthAdjust="spacingAndGlyphs">=</text>
<text x="339.49" y="1080.2" textLength="61.17" lengthAdjust="spacingAndGlyphs">1.0</text>
<circle cx="433.2" cy="1067.3" r="5" fill="#ff0000"/>
<text x="242.47" y="1123.5" font-style="italic" textLength="34" lengthAdjust="spacingAndGlyphs">U</text>
<text x="292.48" y="1124.31" font-size="39.2" textLength="37.48" lengthAdjust="spacingAndGlyphs">=</text>
<text x="339.58" y="1123.2" textLength="59.99" lengthAdjust="spacingAndGlyphs">1.4</text>
<circle cx="433.2" cy="1110.3" r="5" fill="#00ff00"/>
<text x="242.47" y="1166.5" font-style="italic" textLength="34" lengthAdjust="spacingAndGlyphs">U</text>
<text x="292.48" y="1167.31" font-size="39.2" textLength="37.48" lengthAdjust="spacingAndGlyphs">=</text>
<text x="339.49" y="1166.2" textLength="61.17" lengthAdjust="spacingAndGlyphs">1.8</text>
<polygon points="425.3,1148.97 441.1,1148.97 433.2,1161.97" fill="#0000ff"/>
<text x="242.47" y="1209.5" font-style="italic" textLength="34" lengthAdjust="spacingAndGlyphs">U</text>
<text x="292.48" y="1210.31" font-size="39.2" textLength="37.48" lengthAdjust="spacingAndGlyphs">=</text>
<text x="341.7" y="1209.2" textLength="59.73" lengthAdjust="spacingAndGlyphs">2.2</text>
<rect x="427.5" y="1190.6" width="11.4" height="11.4" fill="#fa8072"/>
<text x="242.47" y="1252.5" font-style="italic" textLength="34" lengthAdjust="spacingAndGlyphs">U</text>
<text x="292.48" y="1253.31" font-size="39.2" textLength="37.48" lengthAdjust="spacingAndGlyphs">=</text>
<text x="341.74" y="1252.2" textLength="58.46" lengthAdjust="spacingAndGlyphs">2.6</text>
<polygon points="433.2,1231.57 440.2,1243.17 426.2,1243.17" fill="#00ffff"/>
<text x="242.47" y="1295.5" font-style="italic" textLength="34" lengthAdjust="spacingAndGlyphs">U</text>
<text x="292.48" y="1296.31" font-size="39.2" textLength="37.48" lengthAdjust="spacingAndGlyphs">=</text>
<text x="341.53" y="1295.2" textLength="59.06" lengthAdjust="spacingAndGlyphs">3.0</text>
<circle cx="433.2" cy="1282.3" r="5" fill="#ff00ff"/>
<rect x="212.9" y="848.1" width="766.7" height="469.1" fill="none" stroke="#000" stroke-width="1.9"/>
<clipPath id="clipR751"><rect x="1167.1" y="944.4" width="497" height="373"/></clipPath>
<g clip-path="url(#clipR751)">
<polyline points="1202.6,960.68 1273.6,1205.3 1344.6,1278.81 1415.6,1276.54 1486.6,1283.8 1557.6,1286.2 1628.6,1283.8" fill="none" stroke="#fa8072" stroke-width="1.1" stroke-dasharray="6,3.5"/>
</g>
<circle cx="1202.6" cy="960.68" r="9.4" fill="#fa8072"/>
<circle cx="1273.6" cy="1205.3" r="9.4" fill="#fa8072"/>
<circle cx="1344.6" cy="1278.81" r="9.4" fill="#fa8072"/>
<circle cx="1415.6" cy="1276.54" r="9.4" fill="#fa8072"/>
<circle cx="1486.6" cy="1283.8" r="9.4" fill="#fa8072"/>
<circle cx="1557.6" cy="1286.2" r="9.4" fill="#fa8072"/>
<circle cx="1628.6" cy="1283.8" r="9.4" fill="#fa8072"/>
<line x1="1167.1" y1="1271.22" x2="1664.1" y2="1271.22" stroke="#4169e1" stroke-width="3.2"/>
<line x1="1167.1" y1="1282.61" x2="1664.1" y2="1282.61" stroke="#303030" stroke-width="1.3" stroke-dasharray="7.5,4.3"/>
<line x1="1184.85" y1="1317.4" x2="1184.85" y2="1305.4" stroke="#000" stroke-width="1.9"/>
<line x1="1184.85" y1="944.4" x2="1184.85" y2="956.4" stroke="#000" stroke-width="1.9"/>
<line x1="1273.6" y1="1317.4" x2="1273.6" y2="1305.4" stroke="#000" stroke-width="1.9"/>
<line x1="1273.6" y1="944.4" x2="1273.6" y2="956.4" stroke="#000" stroke-width="1.9"/>
<line x1="1362.35" y1="1317.4" x2="1362.35" y2="1305.4" stroke="#000" stroke-width="1.9"/>
<line x1="1362.35" y1="944.4" x2="1362.35" y2="956.4" stroke="#000" stroke-width="1.9"/>
<line x1="1451.1" y1="1317.4" x2="1451.1" y2="1305.4" stroke="#000" stroke-width="1.9"/>
<line x1="1451.1" y1="944.4" x2="1451.1" y2="956.4" stroke="#000" stroke-width="1.9"/>
<line x1="1539.85" y1="1317.4" x2="1539.85" y2="1305.4" stroke="#000" stroke-width="1.9"/>
<line x1="1539.85" y1="944.4" x2="1539.85" y2="956.4" stroke="#000" stroke-width="1.9"/>
<line x1="1628.6" y1="1317.4" x2="1628.6" y2="1305.4" stroke="#000" stroke-width="1.9"/>
<line x1="1628.6" y1="944.4" x2="1628.6" y2="956.4" stroke="#000" stroke-width="1.9"/>
<line x1="1229.22" y1="1317.4" x2="1229.22" y2="1311.4" stroke="#000" stroke-width="1.9"/>
<line x1="1229.22" y1="944.4" x2="1229.22" y2="950.4" stroke="#000" stroke-width="1.9"/>
<line x1="1317.97" y1="1317.4" x2="1317.97" y2="1311.4" stroke="#000" stroke-width="1.9"/>
<line x1="1317.97" y1="944.4" x2="1317.97" y2="950.4" stroke="#000" stroke-width="1.9"/>
<line x1="1406.72" y1="1317.4" x2="1406.72" y2="1311.4" stroke="#000" stroke-width="1.9"/>
<line x1="1406.72" y1="944.4" x2="1406.72" y2="950.4" stroke="#000" stroke-width="1.9"/>
<line x1="1495.47" y1="1317.4" x2="1495.47" y2="1311.4" stroke="#000" stroke-width="1.9"/>
<line x1="1495.47" y1="944.4" x2="1495.47" y2="950.4" stroke="#000" stroke-width="1.9"/>
<line x1="1584.22" y1="1317.4" x2="1584.22" y2="1311.4" stroke="#000" stroke-width="1.9"/>
<line x1="1584.22" y1="944.4" x2="1584.22" y2="950.4" stroke="#000" stroke-width="1.9"/>
<line x1="1167.1" y1="1283.49" x2="1179.1" y2="1283.49" stroke="#000" stroke-width="1.9"/>
<line x1="1664.1" y1="1283.49" x2="1652.1" y2="1283.49" stroke="#000" stroke-width="1.9"/>
<line x1="1167.1" y1="1215.67" x2="1179.1" y2="1215.67" stroke="#000" stroke-width="1.9"/>
<line x1="1664.1" y1="1215.67" x2="1652.1" y2="1215.67" stroke="#000" stroke-width="1.9"/>
<line x1="1167.1" y1="1147.85" x2="1179.1" y2="1147.85" stroke="#000" stroke-width="1.9"/>
<line x1="1664.1" y1="1147.85" x2="1652.1" y2="1147.85" stroke="#000" stroke-width="1.9"/>
<line x1="1167.1" y1="1080.04" x2="1179.1" y2="1080.04" stroke="#000" stroke-width="1.9"/>
<line x1="1664.1" y1="1080.04" x2="1652.1" y2="1080.04" stroke="#000" stroke-width="1.9"/>
<line x1="1167.1" y1="1012.22" x2="1179.1" y2="1012.22" stroke="#000" stroke-width="1.9"/>
<line x1="1664.1" y1="1012.22" x2="1652.1" y2="1012.22" stroke="#000" stroke-width="1.9"/>
<line x1="1167.1" y1="1249.58" x2="1173.1" y2="1249.58" stroke="#000" stroke-width="1.9"/>
<line x1="1664.1" y1="1249.58" x2="1658.1" y2="1249.58" stroke="#000" stroke-width="1.9"/>
<line x1="1167.1" y1="1181.76" x2="1173.1" y2="1181.76" stroke="#000" stroke-width="1.9"/>
<line x1="1664.1" y1="1181.76" x2="1658.1" y2="1181.76" stroke="#000" stroke-width="1.9"/>
<line x1="1167.1" y1="1113.95" x2="1173.1" y2="1113.95" stroke="#000" stroke-width="1.9"/>
<line x1="1664.1" y1="1113.95" x2="1658.1" y2="1113.95" stroke="#000" stroke-width="1.9"/>
<line x1="1167.1" y1="1046.13" x2="1173.1" y2="1046.13" stroke="#000" stroke-width="1.9"/>
<line x1="1664.1" y1="1046.13" x2="1658.1" y2="1046.13" stroke="#000" stroke-width="1.9"/>
<line x1="1167.1" y1="978.31" x2="1173.1" y2="978.31" stroke="#000" stroke-width="1.9"/>
<line x1="1664.1" y1="978.31" x2="1658.1" y2="978.31" stroke="#000" stroke-width="1.9"/>
<rect x="1167.1" y="944.4" width="497" height="373" fill="none" stroke="#000" stroke-width="1.9"/>
<text x="1162.77" y="1369.8" textLength="58.2" lengthAdjust="spacingAndGlyphs">0.5</text>
<text x="1268.31" y="1369.8" textLength="23.28" lengthAdjust="spacingAndGlyphs">1</text>
<text x="1339.11" y="1369.8" textLength="58.2" lengthAdjust="spacingAndGlyphs">1.5</text>
<text x="1446.72" y="1369.8" textLength="23.28" lengthAdjust="spacingAndGlyphs">2</text>
<text x="1517.63" y="1369.8" textLength="58.2" lengthAdjust="spacingAndGlyphs">2.5</text>
<text x="1623.75" y="1369.8" textLength="23.28" lengthAdjust="spacingAndGlyphs">3</text>
<text x="1120.46" y="1296.39" textLength="23.21" lengthAdjust="spacingAndGlyphs">0</text>
<text x="1086.43" y="1228.57" textLength="58.02" lengthAdjust="spacingAndGlyphs">0.2</text>
<text x="1084.62" y="1160.75" textLength="58.02" lengthAdjust="spacingAndGlyphs">0.4</text>
<text x="1085.27" y="1092.94" textLength="58.02" lengthAdjust="spacingAndGlyphs">0.6</text>
<text x="1085.64" y="1025.12" textLength="58.02" lengthAdjust="spacingAndGlyphs">0.8</text>
<text x="1121.48" y="957.3" textLength="23.21" lengthAdjust="spacingAndGlyphs">1</text>
<text x="1395.17" y="1428.22" font-style="italic" textLength="34" lengthAdjust="spacingAndGlyphs">U</text>
<g transform="translate(1060.6,1130.9) rotate(-90)">
<text x="-15.04" y="-0.52" font-style="italic" font-size="42.12" textLength="26.96" lengthAdjust="spacingAndGlyphs">α</text>
</g>
<text x="1381" y="1012.6" textLength="154.42" lengthAdjust="spacingAndGlyphs">baseline</text>
<text x="1350" y="1058.8" textLength="184.37" lengthAdjust="spacingAndGlyphs">threshold</text>
<text x="1333.16" y="1058.8" textLength="14.73" lengthAdjust="spacingAndGlyphs">-</text>
<text x="1305.87" y="1058.8" font-style="italic" textLength="25.11" lengthAdjust="spacingAndGlyphs">σ</text>
<text x="1283.66" y="1058.8" textLength="24.31" lengthAdjust="spacingAndGlyphs">2</text>
<line x1="1558.6" y1="999.5" x2="1617.8" y2="999.5" stroke="#5a5a5a" stroke-width="1.7" stroke-dasharray="7.9,3.7"/>
<line x1="1558.6" y1="1046.1" x2="1617.8" y2="1046.1" stroke="#4169e1" stroke-width="2.9"/>
</svg>
</body></html>
